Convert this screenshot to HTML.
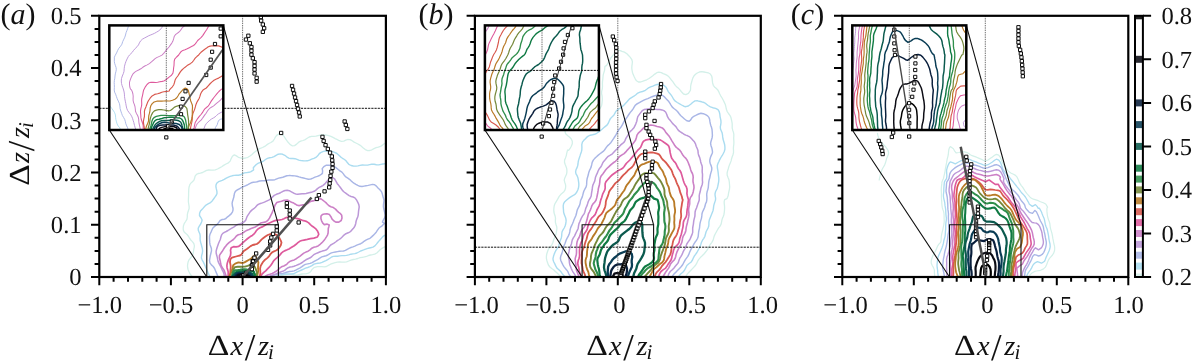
<!DOCTYPE html>
<html lang="en"><head><meta charset="utf-8"><title>Figure</title>
<style>html,body{margin:0;padding:0;background:#fff}svg{display:block}text{font-family:'Liberation Serif',serif;fill:#111;text-rendering:geometricPrecision}.tk{font-size:24.6px}.pl{font-size:30px}.pli{font-size:30px;font-style:italic}.lb{font-size:29px}.lbi{font-size:28.5px;font-style:italic}.sub{font-size:21px;font-style:italic}.sl{font-size:38px}</style></head><body>
<svg width="1193" height="361" viewBox="0 0 1193 361">
<rect width="1193" height="361" fill="#fff"/>
<clipPath id="cp0"><rect x="99.3" y="15.8" width="286.6" height="261.2"/></clipPath>
<clipPath id="ci0"><rect x="109.3" y="25.4" width="114.0" height="104.6"/></clipPath>
<clipPath id="cp1"><rect x="474.9" y="15.8" width="285.9" height="261.2"/></clipPath>
<clipPath id="ci1"><rect x="484.9" y="25.4" width="114.0" height="104.6"/></clipPath>
<clipPath id="cp2"><rect x="842.3" y="15.8" width="286.0" height="261.2"/></clipPath>
<clipPath id="ci2"><rect x="852.3" y="25.4" width="114.0" height="104.6"/></clipPath>
<g clip-path="url(#cp0)" fill="none" stroke-linejoin="round" stroke-linecap="round">
<path d="M194.0 278.0l-1.6-1.3l-2.0-2.2l-1.4-2.7l-.8-1.8l-.5-2.0l-.2-2.1l.3-2.5l.4-1.7l.8-1.9l1.5-1.8l1.6-1.9l1.0-2.3l.4-2.5l.3-2.1l.4-1.5l.2-2.1l-.6-2.1l-1.4-1.9l-1.6-1.6l-1.3-1.8l-.9-1.7l-1.6-2.1l-1.7-1.4l-1.3-1.3l-.7-1.7l-.1-1.8l.2-2.2l.8-2.4l1.4-2.1l1.3-2.2l.4-2.3l.0-2.2l.4-2.0l.7-2.1l.7-2.1l.0-2.2l-.4-2.4l-.3-2.0l.0-2.1l.1-2.3l.1-2.3l-.0-2.2l.1-2.1l.1-2.0l.2-1.7l.8-2.6l1.2-1.7l1.4-1.2l1.4-1.4l.8-2.1l.5-2.1l1.4-1.9l1.8-.8l2.1-.4l2.2-.6l2.1-1.1l1.9-1.0l2.2-.4l2.2 .1l2.1 .1l2.2-.4l2.2-.8l2.1-1.1l2.1-1.2l1.9-1.3l2.4-1.4l2.4-1.2l1.8-1.7l1.0-2.5l1.2-2.4l1.9-1.3l2.1 1.0l2.0 1.4l2.4 .7l2.8 .3l2.0-.3l2.3-.7l2.1-1.3l2.0-1.6l1.5-1.3l1.6-1.4l1.6-1.3l1.7-1.2l1.9-.9l2.3-.8l2.1-1.1l2.0-1.5l2.1-1.4l2.1-1.0l2.1-1.4l1.4-2.1l1.1-2.1l1.2-1.5l2.6-1.8l2.1 .0l1.2 1.1l1.4 1.7l1.3 1.9l1.2 1.8l1.6 2.2l1.9 2.1l2.1 1.4l2.5-.2l2.1-1.5l2.0-1.9l2.0-1.0l2.3-.7l2.3-.9l1.9-1.4l2.0-1.2l2.3-.6l2.3-.1l2.1-.1l2.2-.6l2.1-.5l2.2-.2l2.0 .1l2.1 .2l2.2 .4l2.2 .7l2.1 1.1l2.2 1.2l2.2 1.0l1.9 1.1l2.1 .6l2.4-.2l2.0-.9l1.8-.7l2.4 .1l2.1 1.1l2.0 1.4l1.8 .9l2.0 1.0l1.9 1.1l1.6 1.2l1.9 1.8l2.0 1.5l2.4 1.0l2.1-.1l2.1-.7l2.1-1.2l2.1-.9l2.2-.6l2.3-.7l1.9-1.3l1.8-1.4l2.5-1.0l2.6 .0l1.8 .1" stroke="#d3f0e9" stroke-width="1.30"/>
<path d="M391.3 245.6l-1.8 .1l-2.5 .4l-2.8 1.1l-1.8 .9l-2.0 1.4l-1.8 1.8l-1.8 1.7l-2.1 1.1l-2.2 .5l-2.0 .4l-1.9 .5l-2.0 .8l-2.2 .6l-2.1 .4l-2.2 .4l-2.3 .8l-2.3 .6l-2.3 .4l-2.3 .6l-2.1 .9l-2.2 .9l-2.2 .3l-2.4-.1l-2.3-.1l-2.3 .2l-2.3 .5l-2.3 .6l-2.3 .9l-2.1 1.2l-2.0 1.1l-2.1 .4l-2.5-.2l-2.3-.1l-2.1 .1l-1.9 .4l-1.6 .5l-2.1 2.1l-1.2 2.1l-2.1 1.3l-2.8 .7l-1.8 .1l-1.9 .1l-2.2 .5l-2.5 .6l-2.0 .0l-2.4-.4l-2.4-.3l-2.5-.0l-2.3 .2l-1.9 .2l-2.9 1.3l-2.0 1.6l-1.3 1.0" stroke="#d3f0e9" stroke-width="1.30"/>
<path d="M210.5 277.8l-.8-1.6l-1.2-2.3l-1.0-2.7l-1.1-2.4l-1.0-2.2l-1.0-2.4l-1.0-2.1l-1.2-2.0l-.8-2.0l.2-2.4l.7-2.4l.3-2.5l-.3-2.3l-.5-2.0l-.5-2.0l-.6-2.0l-.5-2.0l-.1-2.1l.1-2.2l-.3-2.1l-.8-1.9l-.8-1.9l-.1-2.0l1.1-2.2l1.4-2.1l1.0-2.3l.4-1.7l-1.1-2.2l-1.5-2.3l.1-2.3l.9-2.2l1.9-1.9l1.0-1.2l1.4-1.6l1.6-1.5l2.1-1.1l2.0-1.1l1.5-1.4l1.6-2.2l1.5-2.1l1.3-1.9l.6-1.6l-.1-2.1l-.6-2.6l-.4-2.0l.1-1.6l.7-1.8l1.8-1.6l1.7-.6l2.0-.7l2.0-1.0l2.1-1.3l2.1-1.0l1.8-.7l1.9-.6l2.0-.4l2.1-.1l2.2 .0l2.1-.5l1.8-.9l2.1-1.0l2.3-.3l2.3-.3l2.0-.7l1.5-.9l1.1-.7l-.3-2.3l1.3-1.5l1.7-1.7l2.1-1.3l2.4-.9l2.5-1.1l2.2-1.7l1.9-1.1l2.3-.6l2.3-.4l2.0-.8l2.1-1.3l2.1-1.1l2.4-.3l2.1 .4l2.1 1.0l1.9 1.5l2.1 1.3l2.0 .4l2.1 .0l2.1 .2l2.0 .7l1.8 .7l2.3 .5l2.2 .2l2.1 .1l1.9-.1l2.3-.7l2.0-.9l2.3-.8l2.0-1.0l1.8-1.6l1.4-1.9l1.5-1.3l2.9-1.2l2.4-.4l1.9-.2l2.3 .2l2.5 .6l2.1 .8l2.2 1.1l2.0 1.7l1.9 1.9l1.7 1.2l2.0 1.2l1.7 1.5l1.3 1.8l1.3 1.5l2.3 1.2l2.2 .5l2.7 .1l1.9-.2l2.1-.5l2.3-.4l2.6 .1l2.8-.0l1.9-.5l2.1-.4l2.4 .1l2.3 .5l2.4 .1l2.1-.5l1.9-.4l1.7-.3l3.2-.7l2.1-.3l1.3-.1" stroke="#aadcf0" stroke-width="1.40"/>
<path d="M391.0 231.4l-1.5 1.2l-2.2 1.5l-3.1 1.5l-1.6 1.3l-1.4 1.7l-1.7 1.8l-1.6 1.8l-1.5 1.9l-1.5 1.8l-2.0 1.2l-2.3 .6l-2.1 .5l-2.1 .7l-2.2 .8l-1.8 .6l-1.8 .7l-1.8 1.0l-1.9 1.0l-2.0 .6l-2.0 .3l-2.0 .3l-2.2 .7l-2.2 .5l-2.2 .2l-2.3 .0l-2.2 .3l-2.2 .3l-2.1 .0l-2.2 .2l-2.0 .8l-1.8 1.3l-1.8 1.2l-1.8 .9l-1.7 .8l-2.2 1.0l-2.1 .7l-2.0 .2l-2.0 .3l-1.9 .6l-2.1 1.4l-2.0 1.1l-2.2 .8l-2.2 .7l-2.0 1.0l-1.9 .8l-2.0 .8l-2.4 1.0l-1.8 1.0l-2.1 1.0l-2.4 .2l-2.4-.1l-2.4 .1l-2.3 .3l-2.2 .3l-2.4 .5l-2.1 1.0l-1.9 1.0l-1.8 .5l-1.3 .2" stroke="#aadcf0" stroke-width="1.40"/>
<path d="M218.1 277.8l-.4-1.8l-1.0-2.4l-1.1-2.6l-1.0-2.5l-1.4-2.0l-1.8-1.6l-1.5-2.0l-.4-2.6l.4-2.2l.4-2.4l.6-2.4l.6-2.5l-.1-2.3l-.7-2.1l-.7-2.0l-.3-2.0l-.1-2.0l-.1-1.9l.0-2.1l.5-2.2l1.0-2.1l.9-2.1l1.0-2.0l1.6-1.6l2.0-1.5l1.6-1.6l1.2-1.7l1.0-1.3l1.9-.8l1.8-.1l1.9-.9l1.4-1.4l1.9-1.5l2.0-1.7l1.3-2.1l.5-1.7l.0-1.9l-.6-2.2l-.3-2.5l.3-1.8l.6-2.0l.7-2.1l.4-2.1l.3-2.0l1.0-2.1l1.7-1.4l2.2-1.2l2.5-1.4l1.6-.8l1.9-.8l2.0-.8l1.9-1.2l2.0-1.0l2.2-.5l2.1-.2l1.7-.4l2.4-.7l2.4-.3l2.3-.0l2.2-.2l2.2-.5l1.9-.1l2.2 .1l2.1-.3l1.9-.8l1.9-.8l1.9-.4l2.2-.5l2.0-.7l2.0-.7l2.0-.2l1.8 .0l2.0 .1l2.2 .2l2.1 .3l2.2 .7l2.1 .6l2.3 .5l2.3 .6l2.5 .6l2.5-.2l2.1-.9l2.1-1.0l2.4-.7l2.1-.9l1.7-1.1l1.2-1.0l.2-2.5l-.4-2.3l1.6-1.9l2.6-1.5l2.7 .0l2.1 .4l1.8 .5l2.6 1.3l1.2 .9l1.4 1.2l1.8 1.3l1.9 1.3l1.5 1.8l1.3 1.9l1.5 1.4l1.6 1.0l2.0 1.4l1.5 1.5l1.5 1.2l1.5 1.0l1.6 1.0l1.9 1.1l2.0 .9l2.2 .2l2.1-.4l1.9-.4l2.2-.3l2.2-.5l2.1-.5l2.1 .3l1.8 1.4l1.6 1.9l1.9 1.7l1.5 1.9l.9 2.2l.5 2.3l.7 2.1l.5 2.0l-.2 2.1l-.3 2.1l-.1 2.3l.3 1.8l.5 2.2l.6 2.4l.5 2.2l-.6 2.4l-1.4 2.4l-.8 2.0l1.9 1.3l-.8 .9l-1.2 1.3l-1.8 1.2l-1.8 1.5l-1.3 1.9l-1.3 2.0l-1.4 1.6l-1.6 1.6l-1.6 1.5l-1.6 1.4l-2.1 .9l-2.0 .9l-1.9 1.2l-1.5 1.3l-1.8 1.1l-1.9 .7l-2.0 .8l-2.0 .9l-1.9 .8l-2.0 .6l-1.9 .8l-1.8 1.0l-1.8 1.1l-1.9 .6l-2.0 .1l-2.1 .1l-2.0 .4l-1.9 .4l-2.1 .4l-2.0 .5l-1.9 1.0l-1.7 1.1l-1.8 .7l-1.8 .5l-2.4 .7l-2.0 1.2l-1.8 1.3l-1.9 1.0l-1.9 1.0l-2.1 1.2l-2.0 .8l-2.3 .5l-2.5 .5l-1.7 .9l-1.7 1.3l-1.8 1.2l-2.0 1.0l-1.9 1.1l-2.1 1.0l-2.2 .4l-2.3 .2l-2.3 .5l-2.2 .8l-2.2 .6l-2.4 .2l-2.1 .3l-2.2 .6l-2.3 .5l-2.2 .6l-1.9 .9l-1.4 1.1l-1.1 .7" stroke="#a9b6e6" stroke-width="1.45"/>
<path d="M224.3 278.0l-.1-1.5l-.1-2.3l-.8-2.2l-1.0-1.9l-1.0-2.2l-1.0-2.0l-1.2-2.2l-.9-1.9l-.5-2.1l-.4-2.3l-.6-2.2l-.5-1.9l-.1-2.0l.5-2.1l.6-2.0l.7-2.0l.7-2.0l.9-2.0l.9-2.0l.5-2.2l.7-2.1l1.2-1.5l1.6-1.0l1.8-.9l1.8-1.0l1.8-1.2l2.0-1.1l1.9-1.1l2.0-1.4l2.2-1.3l2.5-.8l2.3-.8l1.7-1.2l1.3-1.3l1.2-3.4l.9-1.5l1.2-1.8l1.3-2.0l1.8-1.7l1.7-1.2l1.6-1.5l1.3-1.5l1.6-1.3l2.1-.9l2.0-.6l2.0-.8l2.1-1.0l2.2-1.0l2.0-1.2l1.7-1.8l1.8-1.7l2.2-1.1l2.3-.8l1.8-.8l2.5-1.4l2.1-.8l2.1-.2l2.1 .4l2.1 1.1l2.4 1.4l1.8 .7l2.1 .3l2.2-.2l2.2-.2l1.9-.1l2.1-.1l1.9-.5l2.1-.6l2.3-.6l1.8-.6l1.7-1.2l1.6-1.5l1.7-1.2l1.9-.9l1.7-.9l2.0-1.7l1.6-1.9l1.4-1.6l1.3-1.3l3.4-1.6l2.1 1.4l1.3 2.2l1.4 2.6l1.2 1.4l1.3 1.6l1.3 1.8l1.3 1.9l1.7 1.6l1.6 1.1l1.7 1.3l1.7 1.2l2.0 .9l2.0 .5l1.8 .9l1.7 2.1l1.2 2.3l1.0 2.3l.4 2.3l-.3 1.9l-.3 2.0l-.2 2.1l-.2 2.2l-.5 1.9l-.9 2.1l-.7 2.1l-.3 2.0l-.5 1.9l-.9 1.9l-1.2 1.6l-1.8 2.0l-1.3 1.2l-1.9 1.0l-2.3 .9l-1.9 1.4l-1.6 1.7l-1.6 1.5l-1.7 1.2l-1.8 1.2l-1.7 1.3l-1.6 1.1l-1.7 1.0l-1.6 .9l-1.6 1.7l-1.2 1.7l-1.4 1.3l-2.1 .9l-2.1 .5l-2.1 .7l-2.2 .9l-2.2 .9l-2.0 1.1l-1.8 1.6l-1.8 1.5l-2.1 1.0l-2.2 1.0l-1.9 1.3l-1.8 1.4l-1.8 1.1l-2.0 .9l-2.1 .9l-2.3 .9l-1.9 .4l-2.0 .3l-1.9 .7l-1.8 1.2l-1.8 1.4l-1.9 1.0l-2.1 .7l-2.0 .8l-2.2 1.0l-2.3 .8l-2.3 .8l-2.1 1.1l-1.9 .9l-1.8 .4l-1.4 .1" stroke="#bc98d8" stroke-width="1.50"/>
<path d="M226.4 277.8l-.2-1.4l-.6-2.0l-.8-2.2l-.8-2.1l-1.3-1.9l-1.3-2.0l-.7-2.1l-.3-2.2l-.5-2.1l-.5-2.1l.1-2.3l1.2-2.0l1.4-1.8l1.2-2.0l1.3-2.1l1.7-2.1l1.4-1.6l1.6-1.5l2.1-1.4l2.0-1.4l1.6-1.8l1.4-1.7l1.9-1.2l2.0-.6l1.8-.8l1.6-1.1l1.7-1.2l1.8-.9l1.9-.7l2.0-.9l2.1-.8l2.0-.8l1.9-1.1l1.7-1.5l1.8-1.3l2.3-.6l2.2-.4l1.7-.9l1.3-1.1l1.5-2.2l1.2-2.5l.9-1.7l.9-2.2l1.0-2.3l.8-2.3l.7-2.0l1.7-2.3l2.5-.9l2.2-.4l2.7-1.1l3.0-.1l2.2 1.0l2.1 1.2l2.2 .8l1.8 1.1l1.7 1.1l1.9 .3l1.7-.3l2.2-.4l2.7-.4l1.9-.9l1.9-1.5l2.3-1.0l2.4-.5l1.8-.5l2.7-1.2l2.0-.2l1.7 1.1l2.1 1.7l1.4 1.1l1.5 1.6l1.6 1.6l1.9 1.0l2.5 .8l2.1 1.5l1.6 1.8l1.6 1.5l1.8 1.3l1.2 1.6l.3 2.7l-.8 2.5l-2.4 1.6l-3.0-.0l-1.8-1.1l-1.9-1.8l-1.2-2.5l-1.4-2.1l-2.6-.9l-2.6 .3l-1.9 .5l-1.4 1.6l-.1 2.5l.7 2.2l1.2 2.4l1.5 1.4l2.6-.5l2.4 .8l-.4 1.5l-.6 2.0l-.1 2.3l-.1 2.4l-.6 2.0l-1.1 1.8l-1.1 1.7l-1.2 1.7l-1.5 1.7l-1.4 1.3l-1.4 1.4l-1.7 1.2l-2.1 .8l-2.2 .5l-2.0 1.0l-1.8 1.6l-1.9 1.4l-2.2 .9l-2.1 1.0l-1.9 1.5l-1.8 1.5l-1.9 1.3l-1.9 1.3l-2.1 1.2l-1.9 .6l-2.0 .7l-1.7 1.1l-1.4 1.5l-1.6 1.3l-1.8 .8l-2.3 .9l-1.8 1.4l-1.7 1.6l-1.9 1.5l-2.0 1.2l-1.9 1.0l-2.2 .8l-2.4 .7l-2.0 1.0l-1.5 1.2l-1.1 .7" stroke="#cc80c6" stroke-width="1.60"/>
<path d="M228.1 278.0l.1-2.6l-.0-3.5l-.5-1.9l-.6-2.1l-.2-2.2l.3-2.1l.6-2.0l.8-2.2l1.0-2.1l.9-2.0l.3-2.6l-.3-2.5l.7-2.4l2.3-1.1l2.6 .1l2.7-.5l1.7-1.3l1.6-1.6l1.7-1.6l1.7-1.4l1.6-1.4l1.6-1.2l1.6-1.2l2.0-1.2l1.5-1.3l1.4-1.6l1.2-1.9l1.6-1.6l2.0-1.2l2.2-.9l2.0-1.1l2.0-1.3l2.2-1.1l2.2-1.0l2.1-.9l2.2-.9l2.4-.5l2.5-.2l2.2-.4l1.9-.8l2.3-1.1l2.1-.5l2.0 .2l2.0 .3l2.0 .4l2.0 .3l2.1 .5l2.1 .8l1.9 .7l2.2 .5l2.2 .8l1.9 1.3l1.7 1.7l1.5 1.4l2.0 1.3l2.0 1.6l1.4 1.8l.9 1.9l.5 1.7l-1.3 2.7l-3.5 1.1l-1.6 .2l-1.9 .3l-2.1 .5l-2.2 .6l-2.1 .4l-2.2 .4l-2.1 .8l-1.8 1.4l-1.8 1.6l-1.9 1.4l-1.7 1.0l-1.7 1.1l-1.8 1.1l-1.9 .9l-1.9 .8l-1.7 .8l-1.9 1.5l-1.4 1.7l-1.4 1.6l-1.7 1.5l-1.5 1.2l-1.5 1.4l-1.2 1.7l-1.0 1.8l-1.2 1.7l-1.7 1.9l-1.7 1.8l-1.6 1.7l-1.6 1.3l-2.0 1.8l-1.2 2.1l-.5 1.5" stroke="#de5a9c" stroke-width="1.70"/>
<path d="M229.3 277.8l.3-1.4l.5-2.0l.2-2.4l.2-2.4l.2-2.3l-.1-2.0l-.6-3.2l.3-2.6l1.6-1.8l1.8-.6l2.3-.6l2.3-.6l1.7-.4l1.5-1.1l1.0-1.7l1.2-1.6l1.7-1.2l1.8-1.1l1.8-1.4l1.6-1.3l2.1-1.1l2.3-.5l2.2-.7l1.7-1.3l1.4-1.6l1.4-1.5l1.7-1.4l2.0-1.5l2.3-1.5l2.5-.8l2.0-.2l2.3 .2l2.5 .9l1.8 1.7l1.1 2.1l1.0 2.0l.6 1.7l-.7 2.7l-1.7 2.6l-1.4 1.5l-1.7 1.1l-1.9 .8l-2.0 1.1l-1.7 1.8l-1.4 2.1l-1.8 1.8l-2.1 1.6l-1.8 1.9l-1.4 2.1l-1.2 2.2l-.6 2.6l.2 2.5l-.0 2.7l-.6 2.4l-.4 1.7" stroke="#d8584e" stroke-width="1.80"/>
<path d="M229.5 277.4l.0-1.8l1.7-3.3l1.2-3.6l.8-3.5l2.0-1.6l3.2-1.2l4.0 .6l2.1-.6l1.7-1.0l2.4-1.4l2.2-1.1l1.4-1.4l1.0-1.0l1.2-.3l1.0 .5l.7 .7l.7 1.8l1.6 3.0l-.3 3.8l-.1 2.0l.3 2.1l-.5 3.3l-.6 2.5l-.1 1.7" stroke="#b97a26" stroke-width="1.85"/>
<path d="M231.2 277.6l.7-1.5l.9-3.1l.4-3.5l1.7-2.4l2.9-.4l3.3 .1l3.9-.2l2.6-.8l2.7-.9l2.6 .4l1.7 1.4l1.2 2.5l1.3 3.6l-.5 3.1l-.5 1.6" stroke="#75883a" stroke-width="1.90"/>
<path d="M232.1 277.6l.1-1.7l.7-3.5l1.9-2.2l3.0-.2l2.2-.2l2.4-.4l2.3-.1l2.3 .3l3.9 .2l2.2 1.4l1.4 2.3l1.0 2.3l.3 1.7" stroke="#2f8f4c" stroke-width="2.10"/>
<path d="M232.7 277.5l.7-1.6l1.2-2.5l1.9-1.5l3.3-.5l3.9-.3l4.0 .1l3.4-.8l2.6 1.2l.8 2.6l-.1 1.6l-.1 1.7" stroke="#0f7a43" stroke-width="2.20"/>
<path d="M232.8 277.3l.5-1.9l2.3-1.8l2.9-.8l3.9-.4l4.0 .1l3.9 .1l1.9 1.3l.7 2.1l.1 1.6" stroke="#0b5a4e" stroke-width="2.30"/>
<path d="M235.0 277.5l.1-1.9l1.6-2.1l2.9-.5l3.5 .6l3.9-.3l3.3 .8l1.3 2.0l.3 1.6" stroke="#0a3d55" stroke-width="2.30"/>
<path d="M235.9 277.4l.5-2.0l2.4-1.4l2.1 .1l2.2 .3l3.9 .5l2.4 1.1l.5 .4l.9 1.3" stroke="#0a1f3c" stroke-width="2.30"/>
<path d="M237.1 277.3l.9-2.0l2.9-.8l2.8 .5l3.3 .6l1.9 .5l.9 1.5" stroke="#0c0c14" stroke-width="2.30"/>
<path d="M240.4 277.9l.8-.8l2.5-.5l2.7-.2l1.7 .6" stroke="#000000" stroke-width="2.30"/>
</g>
<path d="M242.6 15.8V277.0" stroke="#333" stroke-width="0.7" stroke-dasharray="1.4 0.9" fill="none"/>
<path d="M99.3 108.3H385.9" stroke="#111" stroke-width="1" stroke-dasharray="2.2 1" fill="none"/>
<path d="M206.8 277.0V224.8H278.4V277.0" stroke="#111" stroke-width="1.1" fill="none"/>
<path d="M109.3 130.0L206.8 277.0M223.3 25.4L278.4 224.8" stroke="#111" stroke-width="1.1" fill="none"/>
<g clip-path="url(#cp0)"><path d="M259.2 15.5h3.3v3.3h-3.3zM259.5 19.0h3.3v3.3h-3.3zM261.2 22.8h3.3v3.3h-3.3zM262.5 26.6h3.3v3.3h-3.3zM261.2 30.2h3.3v3.3h-3.3zM246.7 34.1h3.3v3.3h-3.3zM244.3 37.9h3.3v3.3h-3.3zM248.2 41.6h3.3v3.3h-3.3zM249.8 45.4h3.3v3.3h-3.3zM249.8 49.1h3.3v3.3h-3.3zM249.8 53.0h3.3v3.3h-3.3zM251.2 56.6h3.3v3.3h-3.3zM252.9 60.5h3.3v3.3h-3.3zM252.9 64.2h3.3v3.3h-3.3zM252.9 67.9h3.3v3.3h-3.3zM252.9 71.8h3.3v3.3h-3.3zM255.0 76.2h3.3v3.3h-3.3zM255.0 80.0h3.3v3.3h-3.3zM290.4 84.3h3.3v3.3h-3.3zM291.4 88.1h3.3v3.3h-3.3zM292.4 91.9h3.3v3.3h-3.3zM293.4 95.8h3.3v3.3h-3.3zM294.4 99.5h3.3v3.3h-3.3zM295.4 103.3h3.3v3.3h-3.3zM296.4 107.1h3.3v3.3h-3.3zM297.4 110.9h3.3v3.3h-3.3zM298.1 114.8h3.3v3.3h-3.3zM279.5 131.3h3.3v3.3h-3.3zM343.0 119.8h3.3v3.3h-3.3zM344.2 123.3h3.3v3.3h-3.3zM345.7 127.3h3.3v3.3h-3.3zM320.8 135.2h3.3v3.3h-3.3zM322.0 139.3h3.3v3.3h-3.3zM323.9 143.5h3.3v3.3h-3.3zM326.2 147.3h3.3v3.3h-3.3zM328.4 151.0h3.3v3.3h-3.3zM330.2 154.8h3.3v3.3h-3.3zM330.6 158.7h3.3v3.3h-3.3zM330.9 162.4h3.3v3.3h-3.3zM330.9 166.2h3.3v3.3h-3.3zM329.7 170.0h3.3v3.3h-3.3zM328.9 174.2h3.3v3.3h-3.3zM328.6 178.2h3.3v3.3h-3.3zM328.0 181.8h3.3v3.3h-3.3zM327.5 185.7h3.3v3.3h-3.3zM322.9 189.7h3.3v3.3h-3.3zM317.2 193.5h3.3v3.3h-3.3zM315.2 197.3h3.3v3.3h-3.3zM285.2 201.5h3.3v3.3h-3.3zM285.2 205.2h3.3v3.3h-3.3zM288.1 208.9h3.3v3.3h-3.3zM288.1 212.8h3.3v3.3h-3.3zM288.1 216.9h3.3v3.3h-3.3zM297.0 220.8h3.3v3.3h-3.3zM275.1 225.0h3.3v3.3h-3.3zM275.1 228.8h3.3v3.3h-3.3zM271.4 232.2h3.3v3.3h-3.3zM269.7 235.9h3.3v3.3h-3.3zM268.5 239.8h3.3v3.3h-3.3zM268.5 243.8h3.3v3.3h-3.3zM266.4 248.2h3.3v3.3h-3.3zM254.5 251.8h3.3v3.3h-3.3zM252.8 256.1h3.3v3.3h-3.3zM251.2 259.4h3.3v3.3h-3.3zM250.8 263.4h3.3v3.3h-3.3zM251.2 259.8h3.3v3.3h-3.3zM250.2 263.7h3.3v3.3h-3.3zM250.2 267.5h3.3v3.3h-3.3zM244.4 271.2h3.3v3.3h-3.3zM242.0 273.5h3.3v3.3h-3.3z" fill="#fff" stroke="#000" stroke-width="0.95"/></g>
<g clip-path="url(#cp0)"><path d="M242.5 277.0L311.5 197.5" stroke="#505050" stroke-width="2.6" fill="none"/></g>
<rect x="109.3" y="25.4" width="114.0" height="104.6" fill="#fff"/>
<g clip-path="url(#ci0)" fill="none" stroke-linejoin="round" stroke-linecap="round">
<path d="M109.0 104.8l1.5 2.0l1.4 1.8l1.7 2.4l1.1 1.8l.7 2.2l.2 2.3l.3 2.3l.6 2.3l.6 2.0l1.1 2.2l1.5 1.6l1.4 3.2" stroke="#aadcf0" stroke-width="0.90"/>
<path d="M129.1 24.9l-.7 1.4l-.7 2.1l-.8 2.2l-.8 2.0l-.6 2.4l-.7 2.2l-.9 1.9l-1.2 2.5l-.8 2.6l-1.3 2.0l-1.7 2.0l-1.3 2.3l-1.0 2.4l-1.3 2.3l-.9 2.0l-.1 4.1l.3 1.9l.7 2.1l.8 2.3l.2 2.0l-.4 2.1l-.6 2.2l-.3 2.1l-.2 2.2l-.4 2.2l-.2 2.1l.1 2.0l.1 2.9l-.2 2.6l.4 2.1l1.0 2.1l.8 2.2l.8 2.3l1.1 2.4l1.1 2.4l.5 2.5l.2 2.6l.7 2.4l.8 2.3l.8 2.2l1.2 2.0l1.1 2.0l.7 2.2l.4 2.0l.9 2.2l.9 1.8l.9 3.4" stroke="#a9b6e6" stroke-width="0.93"/>
<path d="M162.7 25.4l-.9 2.3l-2.0 2.4l-1.6 1.1l-1.7 1.0l-2.0 1.1l-1.7 .8l-2.0 .8l-2.0 .8l-1.8 1.0l-2.3 1.2l-2.3 1.3l-1.8 1.7l-1.2 2.0l-.9 2.0l-1.4 1.8l-1.9 1.8l-1.8 2.1l-1.2 1.8l-2.6 2.5l-1.3 1.7l-1.2 2.3l-1.1 2.4l-.8 2.4l-.7 2.5l-.3 2.5l-.2 2.6l-.7 2.4l-1.0 2.3l-.8 2.5l-.2 2.5l.2 2.4l.6 2.3l.8 2.1l.7 2.2l.5 2.0l.3 2.1l.1 2.2l.3 2.4l.5 2.5l.5 2.4l.4 2.3l.5 2.3l.8 2.1l1.4 2.0l1.5 1.9l1.2 2.0l.9 2.1l.7 2.2l.6 2.0l.7 2.9l.7 2.4l1.3 3.2" stroke="#bc98d8" stroke-width="0.96"/>
<path d="M185.2 25.3l-1.5 1.1l-1.8 1.8l-1.3 2.1l-1.6 1.7l-1.8 1.3l-1.8 1.4l-1.2 1.9l-.6 2.3l-.8 2.4l-1.0 1.8l-1.3 1.8l-1.3 1.8l-1.3 1.6l-1.6 1.9l-1.5 1.8l-1.1 1.4l-1.8 1.7l-2.4 1.3l-2.9 1.2l-1.8 1.2l-1.6 1.5l-1.5 1.4l-2.3 1.9l-2.7 1.5l-1.9 .9l-2.0 1.3l-2.0 1.5l-2.2 1.2l-2.3 1.1l-1.8 1.3l-1.7 1.8l-1.1 2.0l-.8 1.9l-.8 2.1l-.6 2.2l-.0 2.3l.3 2.3l.6 1.9l1.2 1.2l.7 1.6l.6 2.3l.3 2.3l-.1 2.1l.0 2.1l.5 2.1l.8 2.0l.6 2.1l.3 2.3l.2 2.3l.9 2.1l1.1 1.9l.8 2.0l.4 2.1l.1 2.1l.3 2.2l.5 2.1l.4 1.8l.5 3.4" stroke="#cc80c6" stroke-width="1.02"/>
<path d="M209.4 25.0l-1.1 1.7l-1.4 2.6l-1.7 2.5l-1.2 1.8l-1.3 2.0l-1.5 1.8l-1.6 1.4l-1.9 1.7l-1.2 1.7l-1.2 1.7l-1.7 1.6l-2.1 1.1l-2.2 1.1l-2.1 1.1l-2.2 .9l-2.2 .7l-1.8 1.3l-1.2 1.6l-1.1 1.7l-2.1 2.0l-1.9 2.1l-.5 2.0l-.1 2.2l-.1 2.2l-.4 2.5l-.2 2.6l-.5 2.5l-1.4 2.2l-2.1 1.6l-1.7 1.3l-1.7 1.6l-2.2 1.2l-1.7 .4l-2.3 .4l-2.2 .4l-2.0 .3l-2.4-.1l-2.2-.1l-1.9 .4l-2.1 1.8l-1.5 2.1l-1.8 3.3l-.5 1.9l-.4 2.3l-.5 2.2l-.5 2.1l-.2 2.1l.1 2.2l.0 2.1l-.4 2.1l-.5 2.0l-.3 2.2l.1 2.1l.2 2.1l.1 2.1l.4 2.1l.7 2.0l.7 2.1l.5 2.1l.0 1.9l.1 3.4" stroke="#de5a9c" stroke-width="1.09"/>
<path d="M224.4 48.5l-1.5-.8l-2.2-1.1l-2.1-.7l-2.3-.1l-1.8-.0l-2.0 .0l-2.4 .3l-1.8 .7l-1.7 1.2l-1.8 1.2l-1.9 1.5l-1.9 1.6l-1.3 1.4l-1.0 1.3l-1.6 1.3l-1.9 1.9l-1.6 2.3l-1.3 1.6l-1.6 1.3l-1.8 1.0l-1.8 1.2l-1.7 1.4l-1.8 1.4l-1.7 1.6l-1.4 1.6l-1.4 2.3l-1.3 2.1l-1.6 2.0l-1.1 2.1l-.6 2.4l-.7 2.2l-1.4 2.1l-1.8 1.8l-1.1 1.2l-.2 1.2l-2.4 .4l-3.1 .3l-2.0 .6l-2.1 .8l-2.1 .6l-3.0 .7l-2.5 1.5l-2.0 2.3l-1.7 2.5l-.9 1.9l-.8 2.2l-.8 2.1l-1.0 2.3l-.5 2.5l.1 2.5l-.1 2.5l-.6 2.5l-.4 2.4l.2 2.2l.4 2.1l.3 1.8l.9 3.3" stroke="#d8584e" stroke-width="1.15"/>
<path d="M224.2 74.7l-1.4 .8l-2.0 1.3l-2.2 1.3l-2.2 .9l-2.4 1.3l-2.0 1.6l-1.7 1.6l-2.1 2.4l-1.9 2.1l-3.3 2.1l-1.3 1.7l-1.1 2.2l-.7 2.4l-.8 2.1l-1.1 1.9l-1.1 1.9l-.9 2.1l-.6 2.3l-.7 2.4l-.9 2.3l-1.0 2.5l-.4 2.4l-.1 2.3l-.2 2.1l-.4 2.0l-.6 2.6l-.5 2.4l-.6 3.3" stroke="#d8584e" stroke-width="1.15"/>
<path d="M224.5 87.8l-1.7 .6l-2.2 1.5l-1.7 1.6l-1.9 2.1l-1.9 2.4l-1.2 1.5l-1.2 1.6l-1.3 1.8l-1.1 1.8l-1.0 1.8l-1.2 1.6l-1.6 1.4l-1.7 1.4l-1.3 1.8l-1.1 2.0l-1.4 1.8l-1.5 1.6l-1.7 2.2l-1.4 2.2l-1.2 2.0l-.7 3.0l-.4 2.4l-1.6 3.2" stroke="#de5a9c" stroke-width="1.09"/>
<path d="M224.5 95.9l-1.1 1.0l-1.4 1.5l-1.6 1.8l-1.7 1.5l-1.6 1.2l-1.5 1.3l-1.6 1.4l-1.8 1.2l-1.9 1.1l-1.7 1.6l-1.3 1.8l-1.2 1.9l-1.3 1.7l-1.2 1.7l-1.1 1.7l-1.2 1.6l-2.0 1.8l-1.9 1.8l-1.2 2.1l-1.2 3.1l-.8 2.2" stroke="#cc80c6" stroke-width="1.02"/>
<path d="M224.5 110.1l-1.4 1.1l-2.1 1.3l-2.5 1.3l-1.9 1.6l-1.5 1.5l-1.8 1.1l-1.8 1.0l-1.6 1.2l-1.9 1.7l-1.8 1.8l-1.2 2.1l-.8 2.3l-1.1 1.9l-1.0 1.2" stroke="#bc98d8" stroke-width="0.96"/>
<path d="M224.4 118.2l-1.7 .5l-2.3 .6l-1.8 1.2l-.8 2.1l-.6 2.2l-1.8 2.8l-.6 3.6" stroke="#a9b6e6" stroke-width="0.93"/>
<path d="M145.6 131.0l.4-3.4l.7-2.1l1.2-2.4l.7-2.5l-.0-2.5l.2-2.5l.7-2.4l.5-2.6l.2-2.6l.6-2.2l1.4-2.2l1.9-1.6l2.7-.8l2.9 .0l2.0-.0l2.2-.2l2.1-.1l2.2 .1l2.3-.2l2.0-.5l2.4-1.1l1.9-1.5l1.3-2.0l1.1-1.9l2.4-2.7l1.8-1.9l1.8-1.1l1.8 .8l1.3 1.5l.9 3.8l.5 1.9l.4 2.3l.5 2.3l.9 2.2l.9 2.4l.1 2.6l-.2 2.1l.0 2.2l.0 2.2l-.2 2.0l-.4 2.3l-.5 2.1l-.7 1.9l-1.3 2.5l-.7 2.4l.2 3.4" stroke="#b97a26" stroke-width="1.18"/>
<path d="M147.8 131.1l.5-3.4l.5-1.8l.6-2.1l.4-2.2l.3-2.3l.6-2.2l.7-2.0l1.3-2.5l1.7-1.7l2.0-.8l2.3-.4l2.5 .0l2.7 .3l2.1 .4l2.3 .4l2.1-.3l2.0-1.5l1.8-1.6l2.1-1.1l2.3-.6l2.2-.2l2.1 .1l2.2 .8l1.7 1.9l.5 2.8l.3 3.2l.4 2.3l.4 2.6l.2 2.4l-.0 2.2l-.2 2.1l-.2 1.8l-.1 3.3" stroke="#75883a" stroke-width="1.22"/>
<path d="M149.3 131.0l.9-3.3l.7-1.8l.5-2.2l.4-2.1l1.0-2.6l1.6-1.7l1.9-.9l2.4-.6l2.2-.4l2.6-.1l2.5 .1l2.5 .2l2.5 .0l2.4 .0l2.3-.1l2.1-.2l1.8-.3l2.6 .4l2.2 1.6l1.1 2.7l.5 2.9l.5 2.7l.3 2.4l.0 3.3" stroke="#2f8f4c" stroke-width="1.34"/>
<path d="M151.0 131.1l.4-3.4l1.0-2.5l1.2-2.5l1.2-1.9l1.8-1.2l2.5-.4l2.8-.7l1.9-.7l2.2-.2l2.1-.2l2.1-.2l2.2-.1l2.0 .3l2.9 .5l2.4 .1l1.8 1.0l1.2 1.6l.9 2.1l.7 2.1l.3 2.9l.2 3.4" stroke="#0f7a43" stroke-width="1.41"/>
<path d="M152.1 131.0l1.3-3.2l1.0-1.9l1.4-1.9l1.8-1.4l2.1-1.2l1.9-.7l2.2-.3l2.2 .1l2.1-.0l2.1-.4l2.2-.2l2.2 .1l2.2 .3l2.0 .5l1.8 1.2l1.0 1.8l.5 2.1l.6 1.9l1.1 3.2" stroke="#0b5a4e" stroke-width="1.47"/>
<path d="M154.2 131.0l.6-3.5l2.9-2.7l1.8-1.1l2.2-.9l2.6-.5l2.8 .3l2.0 .4l2.2 .3l2.0 .0l2.9 .2l2.5 .7l1.8 1.4l1.3 1.9l.6 3.5" stroke="#0a3d55" stroke-width="1.47"/>
<path d="M156.1 131.1l.4-3.7l1.8-1.5l2.4-.6l2.0-.2l2.2-.2l2.2-.1l2.1 .1l2.2 .1l2.0 .0l2.4 .6l1.7 .9l1.3 1.4l1.6 3.1" stroke="#0a1f3c" stroke-width="1.47"/>
<path d="M157.6 130.7l2.1-2.6l2.0-.7l2.3-.5l2.0-.4l2.1-.1l2.7 .0l2.6 .1l3.2 1.3l1.5 3.3" stroke="#0c0c14" stroke-width="1.47"/>
<path d="M162.4 131.0l1.5-2.1l2.0-.3l2.2-.1l2.3-.1l2.1 .2l2.2 2.1" stroke="#000000" stroke-width="1.47"/>
</g>
<path d="M166.3 25.4V130.0" stroke="#333" stroke-width="0.7" stroke-dasharray="1.4 0.9" fill="none"/>
<path d="M219.1 27.0h3.2v3.2h-3.2zM219.1 34.7h3.2v3.2h-3.2zM213.4 42.4h3.2v3.2h-3.2zM210.5 50.2h3.2v3.2h-3.2zM209.1 58.1h3.2v3.2h-3.2zM209.1 66.0h3.2v3.2h-3.2zM204.6 73.4h3.2v3.2h-3.2zM187.0 81.3h3.2v3.2h-3.2zM183.9 89.7h3.2v3.2h-3.2zM181.0 97.3h3.2v3.2h-3.2zM179.4 105.0h3.2v3.2h-3.2zM179.4 112.6h3.2v3.2h-3.2zM170.2 120.0h3.2v3.2h-3.2zM166.5 124.7h3.2v3.2h-3.2zM164.7 135.8h3.2v3.2h-3.2z" fill="#fff" stroke="#000" stroke-width="0.95"/>
<g clip-path="url(#ci0)"><path d="M166.5 130.0L223.8 48.0" stroke="#555" stroke-width="1.7" fill="none"/></g>
<rect x="109.3" y="25.4" width="114.0" height="104.6" fill="none" stroke="#000" stroke-width="2.5"/>
<rect x="99.3" y="15.8" width="286.6" height="261.2" fill="none" stroke="#000" stroke-width="2.2"/>
<path d="M91.0 277.0H99.3M94.6 263.9H99.3M94.6 250.9H99.3M94.6 237.8H99.3M91.0 224.8H99.3M94.6 211.7H99.3M94.6 198.6H99.3M94.6 185.6H99.3M91.0 172.5H99.3M94.6 159.5H99.3M94.6 146.4H99.3M94.6 133.3H99.3M91.0 120.3H99.3M94.6 107.2H99.3M94.6 94.2H99.3M94.6 81.1H99.3M91.0 68.0H99.3M94.6 55.0H99.3M94.6 41.9H99.3M94.6 28.9H99.3M91.0 15.8H99.3M99.3 277.0V285.3M113.6 277.0V281.7M128.0 277.0V281.7M142.3 277.0V281.7M156.6 277.0V281.7M170.9 277.0V285.3M185.3 277.0V281.7M199.6 277.0V281.7M213.9 277.0V281.7M228.3 277.0V281.7M242.6 277.0V285.3M256.9 277.0V281.7M271.3 277.0V281.7M285.6 277.0V281.7M299.9 277.0V281.7M314.2 277.0V285.3M328.6 277.0V281.7M342.9 277.0V281.7M357.2 277.0V281.7M371.6 277.0V281.7M385.9 277.0V285.3" stroke="#000" stroke-width="2" fill="none"/>
<text x="99.7" y="312.6" text-anchor="middle" class="tk">−1.0</text>
<text x="171.0" y="312.6" text-anchor="middle" class="tk">−0.5</text>
<text x="242.6" y="312.6" text-anchor="middle" class="tk">0</text>
<text x="314.2" y="312.6" text-anchor="middle" class="tk">0.5</text>
<text x="385.9" y="312.6" text-anchor="middle" class="tk">1.0</text>
<g transform="translate(207.9,355)"><text x="-0.1" y="0" class="lb" textLength="21.6" lengthAdjust="spacingAndGlyphs">Δ</text><text x="22.7" y="0" class="lbi">x</text><text x="36.9" y="5" class="sl">/</text><text x="50.0" y="0" class="lbi">z</text><text x="60.2" y="3.7" class="sub">i</text></g>
<g clip-path="url(#cp1)" fill="none" stroke-linejoin="round" stroke-linecap="round">
<path d="M561.5 277.7l-1.0-1.3l-1.6-1.7l-1.8-1.7l-1.7-1.5l-1.8-1.7l-1.9-1.3l-1.8-1.5l-1.5-2.0l-.9-2.4l-.7-2.4l-.4-1.8l-.0-2.0l.3-2.1l.6-2.1l.7-2.0l1.0-2.0l1.6-1.7l1.4-1.9l.9-2.1l.6-2.2l.8-2.1l.9-1.9l.8-2.0l.4-2.1l.3-2.0l.2-2.0l-.3-2.0l-.7-2.0l-.5-1.9l.0-2.1l.1-2.1l-.4-2.1l-.7-2.0l-.5-2.0l-.1-1.9l.1-2.0l.3-2.1l.6-2.0l1.1-1.9l1.2-1.9l1.0-1.8l1.1-2.0l1.5-1.8l1.7-1.5l1.5-1.4l1.0-1.5l.6-2.0l.2-2.0l-.3-2.1l-.7-1.9l-.5-2.0l.5-2.0l.9-1.9l.9-2.0l.4-2.1l-.0-2.1l-.3-2.0l-.7-1.9l-.8-2.0l-.6-2.0l.1-2.2l.9-2.1l.8-2.3l.4-2.3l.5-2.0l.5-1.3l.9 .4l1.3-1.7l1.4-2.5l1.0-2.5l.0-2.5l-1.0-2.2l-1.6-1.8l-1.9-1.5l-2.1-1.9l-.7-1.9l.8-1.4l1.4-1.3l1.9-1.2l2.2-1.4l2.2-1.5l1.6-.8l2.1-.4l2.1-.5l2.0-.9l1.9-1.3l1.9-1.2l1.8-.9l1.5-1.0l2.0-1.7l2.1-1.5l1.9-1.5l1.3-1.8l1.1-1.8l1.8-.9l1.4-.2l1.7-3.5l.2-1.4l.2-1.6l.2-1.9l.0-2.0l-.2-2.3l-.5-2.3l.1-2.4l.6-2.5l.2-2.5l-.1-2.5l.1-2.4l.3-2.3l.2-2.2l.2-2.0l.5-1.8l.5-1.6l.4-1.2l.3-3.8l.9-.6l1.1-1.0l1.1-1.8l1.3-2.2l1.2-2.4l1.4-1.9l1.8-2.3l1.4-2.3l1.8-1.7l2.7-.0l2.4 1.1l2.4 .7l2.5 1.6l1.4 1.5l1.8 1.9l1.6 2.2l.7 2.4l-.2 2.1l-.3 2.1l-.1 2.2l.2 1.9l.4 2.2l.8 2.4l1.0 2.2l1.0 2.0l1.3 2.0l1.9 1.2l2.2 .0l1.8-.6l2.0-.8l2.3-.8l2.3-1.3l1.8-1.3l2.0-1.5l2.0-1.6l2.0-1.4l2.1-.6l2.4 .5l1.9 1.0l2.0 .8l2.0 1.0l1.5 1.2l1.3 1.6l1.4 1.8l1.4 1.7l1.3 1.9l1.2 1.8l1.6 1.7l1.9 1.5l1.4 1.5l1.0 1.4l2.3 2.5l2.4 .6l2.5-1.2l2.0-3.0l.2-1.8l.0-2.1l.4-2.2l.6-2.1l.5-1.9l.7-2.2l1.1-2.1l1.6-1.7l1.8-1.3l2.1-1.0l2.3-.3l2.3 .3l1.9 .3l2.3 .5l2.1 1.2l1.4 2.1l.4 1.9l.2 2.4l.3 2.5l.7 2.4l1.2 1.6l1.6 1.4l1.5 1.4l1.1 1.9l.8 1.9l1.2 2.3l1.4 2.2l1.2 2.2l.9 1.9l1.1 2.4l.6 2.3l.4 2.2l.8 2.3l1.4 2.2l1.4 1.8l1.0 2.1l.6 2.6l.4 1.8l.3 2.0l-.0 2.2l.0 2.1l.5 2.1l.7 1.9l.4 2.1l-.0 2.1l-.1 2.0l.1 1.9l.1 2.1l-.1 2.2l-.3 2.2l-.1 2.0l.1 1.6l.0 2.4l-.6 2.3l-.7 1.7l-.6 2.0l-.5 2.2l-.8 2.2l-.9 2.0l-.7 1.9l-.5 2.0l-.6 1.9l-.5 2.1l.1 2.2l.8 2.2l.9 2.2l.4 2.4l.2 2.5l.2 2.4l-.2 2.1l-.5 2.2l-.5 2.2l-.3 2.2l-.6 1.7l-.7 1.3l-2.2 1.1l-.5 1.7l.0 2.0l.3 2.2l.1 2.3l-.1 2.2l-.2 2.0l-.3 2.1l-.6 2.0l-.9 1.9l-.6 2.0l-.4 2.2l-.5 2.1l-1.1 1.9l-1.4 1.8l-1.1 1.9l-1.1 2.0l-1.1 2.0l-1.0 2.1l-.6 2.2l-.6 2.1l-1.3 2.2l-1.5 1.9l-1.2 2.0l-1.1 2.3l-1.2 1.9l-1.5 1.8l-1.5 1.8l-1.5 1.5l-1.3 1.1l-2.3 2.7l-.9 1.5l-.9 2.1l-1.2 2.0l-1.4 1.6l-1.7 1.8l-1.6 1.7l-1.7 1.7l-1.8 1.9l-1.5 2.4l-1.1 1.5" stroke="#d3f0e9" stroke-width="1.30"/>
<path d="M566.6 277.5l-1.8-1.1l-2.1-2.1l-1.7-2.5l-1.9-1.7l-2.0-1.8l-1.3-2.1l-1.0-2.3l-1.0-1.9l-.7-1.9l-.1-1.8l.5-2.0l.7-2.2l.9-2.1l1.1-2.1l1.5-2.0l1.1-2.2l.6-2.4l.5-1.7l.7-1.8l.7-1.9l.4-2.1l.1-2.3l.3-1.8l.9-1.8l1.2-1.9l.9-2.0l.6-2.0l.3-2.1l.1-1.8l-.4-2.2l-.8-1.9l-.8-1.9l-.5-2.0l-.1-2.0l-.2-2.1l-.1-2.2l.4-2.2l1.2-1.9l1.6-1.4l1.5-1.3l1.7-1.4l2.0-1.3l2.1-1.1l1.8-1.3l1.3-1.9l1.0-2.0l.7-2.2l.3-2.2l-.0-2.1l-.2-1.7l-.3-1.9l-.4-2.2l-.8-2.0l-1.1-1.9l-.4-2.0l.4-2.0l.9-1.9l.7-1.9l.4-2.0l.2-2.0l.4-1.9l.7-2.1l.7-2.1l.6-2.0l.7-1.9l.5-2.0l.1-2.6l-.1-2.7l.6-2.5l1.4-1.9l1.4-1.4l1.4-1.5l1.7-1.3l2.0-.9l2.2-.4l2.1-.5l2.1-1.0l2.0-1.4l1.6-1.2l1.7-1.4l1.7-1.5l1.7-1.4l1.6-1.3l1.4-2.1l1.0-2.4l1.1-2.2l1.7-1.6l1.6-1.6l.9-1.5l.9-1.8l1.3-1.6l1.9-1.3l2.0-1.1l1.6-1.4l1.6-1.6l1.4-1.5l1.6-1.7l1.3-1.5l1.6-1.6l2.0-1.3l2.0-1.1l2.0-1.4l1.9-1.7l2.2-1.0l2.5-.6l2.3-.8l1.9-1.4l1.9-1.5l2.0-.9l2.2-.8l2.2-.9l2.0-.7l2.0-.3l2.5 .3l2.4 .9l2.2 1.9l1.0 1.9l1.0 2.1l1.5 2.0l1.6 1.8l1.2 1.9l1.2 2.3l1.7 1.9l2.0 1.3l1.9 1.1l2.4 1.4l2.2 1.2l2.0 .5l2.5-.7l2.4-1.7l1.9-1.8l2.4-1.6l2.6-.1l1.8 .5l2.2 .5l2.4 .7l1.9 1.2l2.2 1.8l2.3 1.3l2.3 .9l2.9 .7l2.4 1.3l1.2 1.9l.6 2.4l.3 2.8l.4 1.8l.4 1.9l.1 2.1l-.3 2.2l-.4 2.1l.2 2.1l.8 1.9l.8 1.9l.4 2.0l.2 2.1l.3 2.1l.6 2.0l.6 2.0l.5 2.0l.2 1.9l-.0 2.4l-.6 2.2l-1.0 2.0l-.9 1.6l-1.5 2.4l-1.4 2.6l-.7 1.6l-.9 1.9l-.6 2.1l.1 2.3l.4 2.1l.3 2.0l.2 1.9l.2 2.0l.3 2.0l.0 2.2l-.2 1.9l-.4 2.0l-.4 2.1l-.5 2.0l-.9 1.8l-.9 1.8l-.5 2.2l.2 2.1l.4 2.1l-.1 1.9l-.6 1.8l-.7 2.0l-.5 2.0l-.2 2.1l-.4 2.2l-.6 1.9l-.8 2.0l-.8 2.0l-.8 2.0l-.8 2.0l-.4 2.0l-.0 2.1l-.2 2.0l-.7 1.9l-1.0 1.9l-.9 1.8l-.6 2.2l-.6 2.3l-1.1 2.0l-1.3 1.9l-1.0 2.0l-.7 2.2l-.8 2.1l-.9 2.0l-1.1 2.0l-1.1 2.0l-1.3 1.9l-1.4 1.8l-.9 1.9l-.8 1.9l-1.6 2.3l-2.1 1.5l-1.9 1.7l-1.2 2.4l-1.2 2.4l-1.7 1.9l-2.1 1.8l-1.8 2.1l-1.2 1.4" stroke="#aadcf0" stroke-width="1.40"/>
<path d="M571.5 277.5l-1.2-1.3l-1.4-2.1l-1.0-2.4l-1.3-1.8l-1.4-1.6l-1.3-1.7l-1.1-2.0l-1.1-2.2l-1.0-2.2l-.3-2.1l.4-2.1l1.0-2.4l.5-1.7l.5-2.1l.5-2.2l.8-2.1l.9-2.0l.7-1.9l.7-2.0l.9-1.8l1.1-1.9l.9-2.1l.5-1.9l.3-2.2l.6-2.1l.9-2.0l.9-1.9l.8-2.0l.7-2.0l.9-1.9l.9-2.0l.6-2.0l.4-2.0l.5-1.9l1.0-2.1l1.1-2.1l.7-2.1l.3-1.9l.3-1.5l1.5-3.1l.5-1.7l.5-2.1l.7-2.3l1.1-2.1l1.1-2.0l.5-2.0l.1-2.1l.1-2.0l.3-2.0l.6-2.0l.6-2.0l.4-2.1l.7-1.9l.9-1.9l.8-1.8l.6-2.4l.5-2.3l1.1-2.3l1.7-2.0l1.5-1.3l1.5-1.4l1.7-1.4l1.8-1.3l1.7-1.3l1.3-1.4l1.5-2.2l1.5-1.9l1.8-1.7l1.7-1.8l1.2-1.8l1.2-1.8l1.2-1.8l1.2-1.8l1.0-1.9l1.1-2.2l1.4-2.0l1.6-1.9l1.3-2.0l1.1-2.3l1.2-2.2l1.5-2.0l1.3-1.8l1.5-2.4l1.5-2.1l1.6-1.9l1.2-1.6l1.0-1.7l1.1-1.8l1.6-1.4l2.1-1.2l2.2-1.2l2.3-1.2l2.2-1.0l2.2-.8l2.1-.9l2.1-1.0l1.9-.7l2.7-.7l2.2-.5l1.8-.2l1.7 .6l1.8 1.4l1.8 1.9l1.4 1.4l1.5 1.7l1.2 1.8l1.0 1.7l1.3 2.0l1.6 1.4l2.0 1.5l1.6 1.5l1.5 2.0l1.6 2.0l1.7 1.5l2.2 2.0l2.3 1.8l2.4 .4l1.5-1.3l1.2-2.0l1.9-1.6l2.4-1.1l2.4-1.2l2.3-.7l2.4 .4l2.3 1.0l2.0 1.2l1.3 1.5l.7 1.9l.3 2.1l.4 2.2l.5 1.8l.7 1.9l.5 2.1l.2 2.1l.1 2.0l.1 2.1l-.3 2.1l-.6 2.0l-.6 2.0l-.3 1.9l.5 2.4l.8 2.3l.4 2.1l.2 1.6l-.2 1.3l-.8 1.6l-1.0 2.4l-.7 2.7l-.0 1.9l.5 1.9l.9 2.1l.6 2.1l-.1 2.1l-.6 2.0l-.6 2.0l-.4 1.9l-.4 2.0l-.6 2.1l-.4 2.3l-.2 2.4l-.2 2.5l-.5 2.3l-.7 2.2l-.4 2.3l.1 2.3l.1 2.3l-.2 1.9l-.3 1.6l-.8 1.4l-.4 1.6l-.6 2.3l-1.2 2.6l-.8 1.7l-.6 1.9l-.2 2.2l-.3 2.2l-.6 2.0l-.6 2.0l-.4 2.0l-.2 2.0l-.2 2.0l-.5 2.0l-.4 2.1l-.2 2.1l-.2 2.2l-.7 2.0l-1.1 1.9l-1.4 1.9l-1.2 1.9l-1.0 2.0l-1.1 2.0l-1.1 1.9l-1.0 2.1l-.8 2.2l-1.0 2.0l-1.3 1.7l-1.1 1.6l-1.4 2.5l-1.2 2.3l-1.5 2.0l-1.8 1.9l-1.8 1.9l-1.7 1.8l-1.8 1.7l-1.4 1.8l-.8 1.4" stroke="#a9b6e6" stroke-width="1.45"/>
<path d="M575.9 277.3l-.9-2.4l-1.9-2.8l-.9-1.6l-.9-1.9l-.7-1.9l-.8-2.0l-.4-2.2l-.2-2.4l-.5-1.8l-.4-2.1l.1-2.1l.6-2.2l.3-1.9l.5-2.0l.8-2.0l.8-2.0l.4-2.1l.5-2.1l1.0-1.9l1.2-1.8l.9-2.0l1.0-2.1l1.0-1.8l.8-2.0l.3-2.2l.4-2.2l.9-2.0l.8-1.9l.9-2.1l1.1-1.9l1.3-1.8l.9-1.9l.5-2.1l.6-2.1l1.0-2.1l.7-2.1l.6-2.0l.7-1.6l1.4-2.2l.9-2.0l.3-2.6l.3-1.7l.4-2.0l.2-2.2l.4-2.1l.8-1.9l1.0-2.1l.5-2.1l.4-2.1l.8-2.0l1.0-2.0l.8-2.2l1.1-2.1l1.5-1.9l1.0-1.7l.9-2.1l1.1-1.8l1.5-1.7l1.4-1.7l1.6-1.7l2.1-1.2l2.1-1.3l1.6-1.8l1.6-1.8l1.8-1.6l1.5-1.7l1.6-1.7l1.8-1.5l1.8-1.6l1.0-1.8l.8-1.9l1.1-1.8l1.1-1.7l.9-1.8l1.1-1.5l2.0-1.9l1.8-1.9l1.1-2.1l.9-2.1l.9-2.4l.4-2.3l.6-2.3l1.4-2.0l1.5-2.0l1.5-1.9l1.9-1.1l2.4-.4l2.4-.4l2.0-.4l2.3 .3l2.1 .5l2.0 .2l2.5 .0l2.2 .5l1.9 .7l1.7 1.4l1.1 2.3l.8 2.4l1.0 1.7l1.4 1.6l1.3 1.6l1.3 1.8l1.7 1.6l1.7 1.6l1.3 2.0l1.5 2.1l1.7 1.2l1.8 1.1l1.7 1.2l1.9 .9l1.9 .7l2.1 1.1l1.6 1.7l1.5 1.6l1.5 1.6l1.1 2.1l.7 2.4l1.0 2.2l.7 1.7l.3 3.2l.5 2.0l1.0 2.2l.7 2.6l.3 1.7l.6 1.9l.8 2.1l.2 2.1l-.1 2.1l.0 2.0l.3 2.0l.0 2.0l-.1 2.1l.0 2.0l.2 2.0l-.3 2.0l-.7 2.0l-.7 1.9l-.4 2.0l-.4 2.0l-.6 1.9l-.3 2.0l.1 2.1l-.1 2.1l-.7 2.0l-.7 1.9l-.6 2.0l-.7 2.0l-.9 1.9l-.5 2.0l-.1 2.1l-.1 2.0l-.5 2.0l-.5 2.0l-.3 2.0l-.2 2.0l-.4 2.0l-.3 2.0l.0 2.1l-.0 2.2l-.6 2.0l-.9 2.0l-.8 2.0l-1.0 1.9l-1.4 1.8l-1.2 1.9l-.8 2.2l-.8 2.1l-1.2 1.9l-1.0 2.0l-.9 2.2l-1.1 1.9l-1.2 1.9l-.7 1.8l-.9 2.7l-1.4 1.9l-1.5 1.7l-1.5 1.9l-1.8 1.8l-1.8 1.5l-1.3 2.1l-.8 2.2l-.8 1.4" stroke="#bc98d8" stroke-width="1.50"/>
<path d="M579.2 277.3l-.9-2.3l-1.1-2.9l-.9-2.4l-.2-2.8l-.1-1.8l-.3-1.8l-.5-3.1l.0-1.6l.5-1.8l.6-2.0l.2-2.2l-.0-2.4l-.0-2.3l.1-2.2l.2-2.1l.3-1.8l.8-2.3l1.2-2.0l.8-1.9l.5-1.9l.5-1.8l.9-1.8l1.5-1.9l1.3-1.8l.9-2.1l.7-2.1l.7-2.1l.5-2.1l.5-2.0l.5-2.1l1.0-1.9l.9-1.9l.8-2.1l.7-2.1l1.2-2.0l1.6-1.7l1.4-1.9l.7-2.4l.5-2.4l.5-2.5l.4-2.3l.3-2.2l.6-2.3l.5-2.0l.3-2.0l.1-2.1l.4-2.3l1.0-2.1l1.5-1.8l1.4-1.8l1.2-1.8l1.5-1.8l1.8-1.6l1.8-1.7l1.5-1.4l1.7-1.3l1.8-1.2l1.5-1.5l1.4-1.9l1.5-1.7l2.1-1.3l2.1-1.3l1.7-1.7l1.5-1.8l1.5-1.6l1.5-1.6l1.3-1.6l1.3-1.6l1.3-1.6l1.4-2.1l.8-2.5l.6-2.4l1.3-2.0l2.2-1.9l1.7-1.8l1.7-1.8l2.1-1.3l2.4-.8l2.3-.4l2.1 .1l2.2 .6l2.1 .7l2.6 .5l2.6 .9l2.0 2.0l1.1 1.8l1.3 1.7l1.4 1.6l1.3 1.6l1.1 1.8l1.1 1.9l1.1 1.8l1.1 1.8l1.0 1.7l1.3 1.6l1.6 1.3l1.7 1.3l1.3 1.6l1.0 1.8l1.1 1.8l1.4 1.7l1.7 1.7l1.4 2.1l1.0 2.3l.9 2.3l.8 2.2l.6 2.1l.7 2.1l1.1 2.0l.6 1.9l.2 2.0l-.2 2.0l.0 2.1l.4 2.0l.5 2.1l.1 2.2l-.4 2.1l-.4 2.0l-.5 1.7l-1.0 2.2l-1.3 1.8l-.7 2.3l-.0 1.9l-.0 2.0l-.4 2.1l-.5 2.0l-.2 2.1l.2 2.1l.2 2.1l-.2 2.0l-.4 2.0l-.5 2.0l-.4 2.0l-.5 2.0l-.5 1.9l-.4 2.0l-.2 2.1l-.5 2.0l-.9 1.9l-1.2 1.9l-.7 1.9l-.3 2.2l-.5 2.3l-.9 2.1l-1.2 1.9l-1.0 2.0l-1.0 2.0l-.9 2.0l-.7 2.0l-.4 2.1l-.6 1.9l-.9 1.6l-2.0 1.9l-1.5 1.8l-1.0 2.1l-1.1 2.3l-1.4 2.0l-1.4 1.8l-1.2 2.1l-1.2 2.0l-.8 1.4" stroke="#cc80c6" stroke-width="1.60"/>
<path d="M581.5 277.3l-.7-1.9l-1.0-2.5l-.5-1.9l-.3-2.0l-.4-2.1l-.5-1.7l-.4-1.8l.6-3.2l.6-1.5l.5-1.7l.2-2.0l-.1-2.2l.0-2.3l.2-2.3l.3-2.3l.6-2.1l.8-1.9l.8-1.6l.7-2.4l.5-2.3l.9-1.9l1.2-1.6l1.1-1.6l.7-1.8l.6-2.4l.7-2.2l.9-2.1l.9-2.0l1.2-1.8l1.9-1.8l1.6-1.8l1.0-2.2l.8-2.4l1.0-1.9l1.1-2.0l.8-2.1l.5-2.2l.5-1.9l.8-2.2l.6-2.0l.6-1.9l1.0-1.9l1.0-2.0l.4-2.1l-.1-2.2l.1-2.1l.8-1.9l1.4-1.6l1.4-1.6l1.5-1.7l1.4-1.4l1.7-1.3l1.8-1.3l1.8-1.3l1.9-1.2l2.0-.9l1.8-1.1l1.5-1.7l1.2-1.9l1.3-1.6l1.6-1.5l1.6-1.5l1.4-1.8l1.4-1.6l1.3-1.5l1.4-1.7l1.1-1.7l1.3-1.5l1.4-1.3l1.5-1.7l.9-2.0l.8-2.2l1.1-1.7l2.7-1.5l2.7-.5l3.0-.2l2.9 .3l1.9 .1l2.0 .0l2.0 .6l1.6 1.0l1.6 1.2l1.8 1.2l2.1 1.5l1.1 1.4l.6 2.0l.3 2.1l.4 2.2l.5 2.2l.5 2.0l.7 1.7l1.7 2.2l1.7 1.8l1.1 1.9l1.0 2.3l1.1 1.9l1.4 1.8l1.1 2.0l.7 2.2l.6 2.2l.6 2.1l.6 2.0l.7 2.0l.9 1.9l1.2 1.9l.7 2.1l.1 2.3l-.2 2.2l.3 2.0l.4 1.5l.9 3.1l-.3 1.6l-.2 1.9l-.2 2.2l-.3 2.2l-.4 2.1l-.2 2.0l-.1 2.3l-.5 2.1l-1.0 1.9l-1.2 1.8l-.7 2.0l-.2 2.0l-.1 2.0l-.4 2.0l-.5 2.0l-.4 2.0l-.5 2.1l-.7 2.0l-.7 2.0l-.4 2.2l-.5 2.2l-1.3 2.0l-1.7 1.6l-1.5 1.8l-.9 2.1l-.5 2.1l-.6 2.1l-.5 2.1l-.4 2.0l-.6 1.7l-1.5 2.2l-1.4 1.9l-1.2 2.1l-1.6 2.1l-2.3 1.5l-2.0 1.6l-1.3 2.1l-.9 2.2l-.7 1.4" stroke="#de5a9c" stroke-width="1.70"/>
<path d="M585.4 277.1l-.5-2.4l-1.3-2.8l-.8-2.4l-.4-2.7l-.4-1.7l-.5-1.9l-.0-3.0l.2-1.7l.1-2.0l.0-2.2l.2-2.3l.8-2.3l1.0-2.1l.7-2.1l.4-1.8l.8-2.4l.8-2.1l.5-2.0l.5-2.0l.6-1.9l1.3-2.2l1.6-1.9l1.3-2.1l1.2-2.1l1.4-2.0l1.3-2.0l1.1-2.2l1.3-2.1l1.5-1.4l1.6-1.5l1.2-1.7l.9-1.9l.8-1.8l.7-2.2l.4-2.1l.1-2.2l.5-2.1l.8-1.9l.8-2.0l.6-2.0l.5-1.9l1.0-1.7l1.2-1.6l1.4-1.6l1.2-1.9l1.4-1.8l1.8-1.5l1.9-1.5l1.6-1.9l1.4-1.9l1.6-1.7l1.7-1.6l1.7-1.7l1.4-1.6l1.8-1.4l1.8-1.4l1.4-1.7l1.0-1.8l1.0-2.1l1.1-1.9l1.2-1.7l1.0-1.6l1.6-1.6l1.7-1.0l2.0-.5l2.2-.3l2.2-.4l2.3-.3l2.4 .2l2.3 .6l2.0 .5l1.7 .8l1.4 1.7l.9 1.6l1.3 1.8l1.9 1.7l1.8 1.8l1.2 1.6l1.3 1.8l1.4 1.8l1.2 1.8l.8 1.9l.7 2.2l.9 2.1l1.1 1.9l.9 2.1l.7 2.1l.9 2.0l1.0 2.0l.8 2.2l.5 2.1l.7 2.3l.9 2.1l.7 2.0l.2 1.4l.6 1.5l-.4 1.6l-.4 1.9l-.3 2.2l-.4 2.2l-.3 2.2l-.1 2.0l.2 2.1l.1 2.1l-.3 2.0l-.6 2.0l-.4 2.0l-.2 2.0l-.3 2.0l-.6 2.0l-.6 1.9l-.6 2.1l-.7 2.1l-1.0 1.9l-1.4 1.9l-1.0 1.9l-.6 2.1l-.4 2.1l-.5 2.1l-.5 2.0l-.2 2.2l-.4 2.1l-.7 2.0l-1.1 1.9l-1.1 1.7l-.9 1.6l-1.5 2.3l-1.8 1.8l-1.7 1.9l-1.4 2.3l-1.7 2.0l-1.8 1.7l-1.4 2.0l-.9 2.2l-.6 1.5" stroke="#d8584e" stroke-width="1.80"/>
<path d="M589.7 277.5l-.7-2.5l-.7-3.1l-1.1-2.4l-.8-2.6l-.4-1.9l-.4-2.0l-.1-2.8l.6-1.9l.7-2.1l.2-2.4l.1-2.5l.3-2.3l.3-2.1l.4-2.7l1.0-2.1l1.5-1.7l1.3-1.9l1.1-2.1l1.4-2.0l1.4-2.1l1.1-2.2l1.2-2.1l1.7-1.8l1.5-2.0l1.1-2.2l1.1-2.2l1.1-2.2l.7-2.4l1.1-2.3l1.9-1.7l2.1-1.4l1.8-1.6l1.6-1.5l1.5-2.0l.7-2.2l1.0-2.6l1.4-1.6l1.6-1.9l1.4-2.1l1.4-2.0l1.4-1.8l1.0-2.1l.8-2.0l1.0-1.6l1.4-1.6l1.4-1.9l1.3-2.0l1.6-1.9l1.6-2.0l1.0-2.4l1.1-2.4l1.4-2.0l1.3-1.7l1.5-1.6l1.7-.9l1.8-.6l2.7-1.1l3.0-1.1l3.2 .1l2.8 .3l1.9 1.0l.8 1.5l.9 2.0l1.3 2.0l1.4 1.8l1.1 1.9l.7 2.1l1.0 2.1l.9 2.1l.5 2.1l.4 2.2l.9 2.0l1.0 2.0l.5 2.2l.3 2.2l.6 2.1l.5 1.7l.8 1.8l1.3 1.7l1.0 1.7l.5 1.5l.2 2.0l.1 2.1l.4 2.2l.3 2.1l-.0 2.0l-.5 2.0l-.3 2.0l.1 2.0l-.0 2.0l-.2 2.0l.1 2.1l.2 2.0l-.2 2.1l-.8 1.9l-1.1 1.9l-1.0 1.9l-1.0 2.0l-1.1 2.0l-.8 2.0l-.2 2.2l-.4 2.2l-.7 2.0l-.9 1.9l-.5 2.0l-.4 2.1l-.5 2.0l-.5 2.0l-.2 2.0l-.4 1.9l-1.7 2.2l-2.2 1.6l-1.9 1.7l-1.6 1.4l-1.8 1.2l-1.5 1.6l-.9 1.8l-1.1 2.3l-1.2 1.9l-.8 1.4" stroke="#b97a26" stroke-width="1.85"/>
<path d="M596.4 277.1l-1.2-2.3l-1.5-2.9l-1.8-2.2l-1.5-2.5l-.5-2.0l.1-2.2l.6-2.8l.3-1.9l.1-2.2l.5-2.5l1.0-2.3l1.0-2.2l.6-2.0l.9-2.4l1.0-2.1l1.1-2.1l1.1-2.3l.9-1.6l1.3-1.5l1.5-1.5l1.4-1.6l1.0-1.7l.9-1.9l1.1-1.7l1.3-1.5l1.5-1.5l1.4-1.5l1.0-1.7l.9-1.9l.9-1.8l1.0-1.9l1.0-1.8l1.0-1.8l1.1-1.6l1.2-1.5l1.5-2.0l1.1-2.0l.9-2.2l1.4-2.2l1.6-1.3l1.9-1.3l1.6-1.5l1.3-1.9l1.1-1.9l1.1-1.7l1.5-2.3l1.1-2.2l1.1-2.1l1.3-1.9l1.3-1.8l1.2-1.9l1.1-1.8l1.2-1.4l2.1-1.3l1.8-.3l1.9-.1l2.0-.2l2.3 .0l2.1 .5l1.6 1.7l1.0 1.3l1.4 1.7l1.5 1.7l1.3 1.9l1.0 2.0l1.0 2.0l.9 2.1l.6 2.3l.1 2.0l.0 2.1l.4 2.0l.8 1.9l.8 1.9l.6 2.0l.2 2.0l.1 2.1l.4 2.0l.5 2.0l.5 1.9l.3 2.0l.2 2.1l.2 2.0l.0 2.0l-.2 2.0l-.3 2.1l-.3 2.0l.1 1.9l.1 2.0l-.2 2.1l-.8 2.0l-1.0 1.9l-.9 2.0l-.4 2.1l-.3 2.1l-.4 2.1l-.7 2.1l-.7 2.0l-.7 1.9l-.8 2.0l-.7 1.9l-.7 2.0l-.4 1.9l-.4 1.7l-1.3 2.5l-2.1 1.6l-2.0 1.5l-1.7 1.9l-1.6 2.2l-1.7 1.9l-2.0 2.1l-2.0 2.2l-1.3 1.6" stroke="#75883a" stroke-width="1.90"/>
<path d="M598.2 277.5l-.4-2.6l-1.1-3.0l-1.3-2.4l-.8-2.7l-.5-1.7l-.4-1.9l.7-3.0l.7-1.5l.5-2.0l.2-2.5l.5-2.5l1.0-2.4l.8-2.3l1.1-1.9l1.2-1.5l1.8-2.0l1.0-1.4l1.0-1.5l1.3-1.7l1.1-1.5l1.0-1.7l1.0-1.9l1.1-1.8l1.4-1.6l1.1-1.6l1.0-2.0l1.0-1.9l1.5-1.5l1.6-1.4l1.5-1.7l1.3-1.4l1.5-1.5l1.4-1.6l.9-1.9l.6-2.0l.8-1.8l1.4-2.2l1.2-2.2l1.1-2.1l1.4-1.8l1.5-1.6l1.1-1.6l1.0-1.7l1.4-1.5l1.6-1.7l1.5-1.9l1.2-2.0l1.3-1.5l1.6-1.5l1.4-1.5l1.5-1.3l3.5-.6l3.4 1.0l1.6 .9l1.6 1.9l1.1 2.0l1.6 2.2l1.6 2.4l.8 1.9l.7 2.1l.9 2.0l.9 2.1l.4 1.9l.3 2.0l.5 2.0l.4 2.1l-.2 2.0l-.4 2.1l-.1 2.0l.1 2.0l.1 2.0l.0 2.0l.2 2.0l.6 2.0l.3 2.1l-.1 2.0l-.4 2.0l-.2 2.0l-.0 2.0l-.3 2.1l-.5 2.0l-.5 2.0l-.4 2.1l-.9 1.9l-1.3 1.8l-1.1 1.9l-.4 2.1l-.2 2.2l-.3 2.1l-.2 2.1l-.1 2.0l-.5 1.9l-1.8 1.9l-2.0 1.3l-1.9 1.6l-1.5 1.3l-1.9 1.0l-1.8 1.2l-1.6 1.5l-1.4 1.8l-1.8 1.8l-1.4 1.8l-.6 1.5" stroke="#2f8f4c" stroke-width="2.10"/>
<path d="M600.6 277.3l-1.0-2.3l-.2-3.2l-.4-2.5l-.7-2.5l-.4-1.9l-.3-2.1l-.3-2.7l.3-1.8l1.0-1.8l1.1-2.0l.6-2.1l.6-2.1l.9-1.8l1.5-2.2l1.3-2.1l1.7-1.7l1.4-1.8l.9-2.0l.7-2.1l1.0-1.7l1.6-1.6l1.6-1.6l1.6-1.6l1.9-1.5l1.7-1.8l1.2-1.8l1.4-1.5l1.8-1.3l1.7-1.5l1.2-1.9l.9-1.8l.9-1.8l1.0-1.9l.8-1.9l1.1-1.7l1.4-1.4l1.4-1.7l.9-2.1l.9-1.9l1.4-1.5l1.4-1.0l2.2-1.3l2.1-.7l1.7-.5l3.2-1.3l3.5-.7l1.7 1.5l1.5 1.5l3.5 1.2l.6 1.6l.4 2.0l.4 2.2l.2 2.3l-.4 2.2l-.5 1.9l-.0 2.0l.2 2.1l.0 2.0l-.1 2.0l-.0 2.0l-.0 2.1l-.4 2.0l-.4 2.0l.0 2.0l.1 2.1l-.3 2.0l-.9 1.9l-.8 2.0l-.4 1.9l-.4 2.1l-.4 2.0l-.1 2.0l.2 2.1l-.1 2.0l-.6 2.6l-.1 2.6l.3 2.5l-.4 2.2l-1.3 1.8l-1.5 1.2l-1.8 1.2l-1.9 1.0l-2.0 1.1l-1.6 1.8l-1.2 2.0l-1.4 1.8l-1.5 2.0l-1.1 2.0l-.9 1.3" stroke="#0f7a43" stroke-width="2.20"/>
<path d="M606.5 277.2l-.3-1.9l-.8-2.7l-.9-2.3l-.5-2.7l.1-2.4l.4-2.3l.3-2.9l.3-1.9l.6-2.1l.7-2.2l.7-1.8l1.1-1.8l1.2-1.3l1.4-1.6l1.2-1.5l1.6-1.4l1.9-1.1l1.8-1.2l1.3-1.6l.8-2.0l.9-2.0l1.4-1.7l1.8-1.5l1.9-1.5l2.0-1.5l1.9-1.3l1.7-1.7l1.4-2.0l1.5-1.7l1.6-1.1l3.4-1.4l1.8 .6l1.2 1.6l.4 1.9l-.0 2.4l-.0 2.6l.1 2.0l.2 2.2l.2 2.2l.7 2.0l.9 2.1l.6 2.1l-.0 2.2l-.3 1.9l-.2 2.4l-.3 2.3l-.6 2.2l-1.0 2.1l-1.1 2.0l-1.2 2.0l-1.3 1.9l-1.3 2.0l-.7 2.1l-.7 2.8l-1.2 2.5l-1.0 2.1l-.6 2.3l-.2 1.7" stroke="#0b5a4e" stroke-width="2.30"/>
<path d="M608.6 277.3l-.6-2.4l-.3-3.0l.2-2.6l.2-2.6l1.1-2.5l1.7-2.1l1.3-2.0l1.9-2.1l2.0-1.5l2.2-2.0l2.1-1.2l3.5-1.3l2.5-.9l2.7-.1l2.7 3.1l.5 2.8l-.6 3.3l-.0 2.2l.3 2.3l-.2 2.2l-1.2 2.5l-1.1 2.4l-1.1 3.0l-.6 2.4" stroke="#0a3d55" stroke-width="2.30"/>
<path d="M610.2 277.3l.5-3.7l.3-2.1l.9-2.2l1.4-2.0l1.8-1.8l2.6-1.1l2.8 .0l2.3-.4l1.6-.1l1.7 1.8l.9 2.9l-.1 2.5l-.3 2.4l-1.4 3.7" stroke="#0a1f3c" stroke-width="2.30"/>
<path d="M612.6 277.1l1.8-3.4l2.2-.5l2.1-.1l3.5 .8l.9 3.4" stroke="#0c0c14" stroke-width="2.30"/>
</g>
<path d="M617.8 15.8V277.0" stroke="#333" stroke-width="0.7" stroke-dasharray="1.4 0.9" fill="none"/>
<path d="M474.9 247.2H760.8" stroke="#111" stroke-width="1" stroke-dasharray="2.2 1" fill="none"/>
<path d="M582.1 277.0V224.8H653.6V277.0" stroke="#111" stroke-width="1.1" fill="none"/>
<path d="M484.9 130.0L582.1 277.0M599.0 25.4L653.6 224.8" stroke="#111" stroke-width="1.1" fill="none"/>
<g clip-path="url(#cp1)"><path d="M618.3 277.0L652.0 181.0" stroke="#484848" stroke-width="2.0" fill="none"/></g>
<g clip-path="url(#cp1)"><path d="M611.2 34.9h3.3v3.3h-3.3zM612.5 38.6h3.3v3.3h-3.3zM614.2 42.3h3.3v3.3h-3.3zM614.6 46.0h3.3v3.3h-3.3zM614.6 49.7h3.3v3.3h-3.3zM614.6 53.4h3.3v3.3h-3.3zM614.6 57.1h3.3v3.3h-3.3zM614.4 60.8h3.3v3.3h-3.3zM614.4 64.5h3.3v3.3h-3.3zM614.4 68.2h3.3v3.3h-3.3zM614.4 71.9h3.3v3.3h-3.3zM614.9 75.6h3.3v3.3h-3.3zM615.9 79.3h3.3v3.3h-3.3zM659.4 82.4h3.3v3.3h-3.3zM659.1 85.7h3.3v3.3h-3.3zM658.6 89.1h3.3v3.3h-3.3zM658.0 92.4h3.3v3.3h-3.3zM656.9 95.8h3.3v3.3h-3.3zM653.2 99.7h3.3v3.3h-3.3zM652.0 103.0h3.3v3.3h-3.3zM651.0 106.4h3.3v3.3h-3.3zM647.3 109.7h3.3v3.3h-3.3zM643.6 113.1h3.3v3.3h-3.3zM643.6 116.5h3.3v3.3h-3.3zM652.9 119.3h3.3v3.3h-3.3zM644.8 123.2h3.3v3.3h-3.3zM644.8 126.5h3.3v3.3h-3.3zM647.0 129.9h3.3v3.3h-3.3zM648.5 133.2h3.3v3.3h-3.3zM650.3 136.6h3.3v3.3h-3.3zM653.7 139.9h3.3v3.3h-3.3zM654.5 143.3h3.3v3.3h-3.3zM653.2 147.0h3.3v3.3h-3.3zM643.6 150.0h3.3v3.3h-3.3zM643.6 153.3h3.3v3.3h-3.3zM643.6 156.7h3.3v3.3h-3.3zM651.0 160.1h3.3v3.3h-3.3zM650.3 163.4h3.3v3.3h-3.3zM650.3 166.8h3.3v3.3h-3.3zM648.5 170.1h3.3v3.3h-3.3zM644.8 173.5h3.3v3.3h-3.3zM644.8 176.8h3.3v3.3h-3.3zM645.6 180.2h3.3v3.3h-3.3zM646.5 183.6h3.3v3.3h-3.3zM647.0 186.9h3.3v3.3h-3.3zM647.0 190.3h3.3v3.3h-3.3zM647.0 193.6h3.3v3.3h-3.3zM646.5 197.3h3.3v3.3h-3.3zM645.5 199.8h3.3v3.3h-3.3zM644.2 203.3h3.3v3.3h-3.3zM642.9 206.8h3.3v3.3h-3.3zM641.7 210.3h3.3v3.3h-3.3zM640.4 213.8h3.3v3.3h-3.3zM639.2 217.3h3.3v3.3h-3.3zM638.0 220.6h3.3v3.3h-3.3zM636.9 223.8h3.3v3.3h-3.3zM635.7 226.9h3.3v3.3h-3.3zM634.6 229.9h3.3v3.3h-3.3zM633.6 232.9h3.3v3.3h-3.3zM632.6 235.7h3.3v3.3h-3.3zM631.6 238.5h3.3v3.3h-3.3zM630.6 241.1h3.3v3.3h-3.3zM629.7 243.7h3.3v3.3h-3.3zM628.8 246.2h3.3v3.3h-3.3zM627.9 248.7h3.3v3.3h-3.3zM627.1 251.0h3.3v3.3h-3.3zM626.3 253.3h3.3v3.3h-3.3zM625.5 255.5h3.3v3.3h-3.3zM624.7 257.7h3.3v3.3h-3.3zM624.0 259.7h3.3v3.3h-3.3zM623.2 261.8h3.3v3.3h-3.3zM622.5 263.7h3.3v3.3h-3.3zM621.8 265.6h3.3v3.3h-3.3zM621.2 267.5h3.3v3.3h-3.3zM620.5 269.4h3.3v3.3h-3.3zM619.8 271.3h3.3v3.3h-3.3zM619.1 273.2h3.3v3.3h-3.3z" fill="#fff" stroke="#000" stroke-width="0.95"/></g>
<rect x="484.9" y="25.4" width="114.0" height="104.6" fill="#fff"/>
<g clip-path="url(#ci1)" fill="none" stroke-linejoin="round" stroke-linecap="round">
<path d="M489.5 25.3C489.0 26.1 487.6 28.8 486.8 30.0C486.1 31.2 485.1 32.2 484.7 32.6" stroke="#cc80c6" stroke-width="1.02"/>
<path d="M498.0 25.3l-.9 1.5l-1.0 2.2l-1.1 2.6l-1.1 2.2l-1.0 1.8l-.9 1.7l-.9 1.8l-.9 1.8l-1.0 2.0l-.8 2.2l-.4 2.3l-.4 2.2l-1.0 2.6l-1.2 2.4l-.7 1.7" stroke="#de5a9c" stroke-width="1.09"/>
<path d="M507.6 25.3l-1.0 1.3l-1.7 1.8l-1.6 2.1l-1.2 2.1l-1.0 1.9l-1.0 1.7l-.8 1.8l-.5 2.0l-.4 2.5l-.6 2.5l-.6 2.5l-.8 2.4l-1.2 2.4l-1.5 2.2l-.9 1.9l-.8 2.1l-.8 2.0l-.7 1.8l-.6 2.4l-.6 2.2l-1.0 1.9l-1.6 2.2l-1.2 2.3l-.9 1.6" stroke="#d8584e" stroke-width="1.15"/>
<path d="M516.2 25.4l-.7 1.4l-1.4 1.8l-1.7 1.9l-1.3 1.8l-1.4 2.2l-1.6 2.1l-1.3 2.3l-.6 1.9l-.6 1.9l-.9 1.8l-1.0 1.8l-.9 2.4l-.6 2.5l-.9 2.6l-1.0 2.0l-1.0 2.2l-1.1 2.2l-1.3 1.9l-1.1 1.9l-.7 2.0l-.6 2.0l-.6 1.8l-1.1 2.2l-.9 2.0l-.6 2.1l-.6 2.1l-.5 2.1l-.1 2.1l.3 2.2l.3 2.3l-.1 1.8l-.2 1.3l-.5 1.7l-.3 2.2l.0 2.4l.1 2.4l.5 2.6l.6 2.3l.3 2.2l.1 2.1l.3 2.1l1.0 2.1l1.3 1.9l1.2 2.1l1.2 2.3l1.4 2.2l1.2 2.1l1.0 2.1l1.2 1.8l1.3 1.3l2.0 3.1" stroke="#b97a26" stroke-width="1.18"/>
<path d="M524.1 25.3l-.7 1.5l-1.1 2.1l-1.7 2.0l-1.7 1.7l-1.3 1.7l-1.0 1.8l-1.1 1.8l-1.1 1.9l-.9 2.2l-.9 2.2l-1.2 2.1l-1.2 2.0l-.8 2.0l-.6 2.0l-.7 1.9l-.9 1.8l-1.2 2.2l-1.3 2.1l-1.6 2.0l-1.2 1.7l-.8 1.8l-.6 2.0l-.6 1.9l-.8 1.9l-.9 1.8l-.8 1.9l-.5 1.8l-.7 2.2l-.4 2.0l.2 2.1l.4 2.0l.4 2.1l-.2 2.2l-.6 2.2l-.6 2.1l-.5 2.3l-.1 2.4l.3 2.5l.8 2.5l.4 2.5l.2 2.5l.8 2.4l1.3 2.0l1.3 2.1l1.4 2.0l1.6 2.1l1.2 2.3l.9 2.3l1.3 2.3l1.3 1.6l1.7 3.3" stroke="#75883a" stroke-width="1.22"/>
<path d="M535.8 25.3l-1.1 1.0l-1.6 1.5l-2.0 1.4l-2.3 1.0l-1.7 1.1l-1.8 1.8l-1.3 1.7l-1.1 1.9l-.6 2.4l-.7 2.5l-.9 2.5l-.4 2.0l-.4 2.2l-.8 1.9l-.9 1.6l-1.2 1.7l-1.6 1.6l-1.5 1.2l-1.7 1.4l-1.3 1.9l-1.3 1.8l-1.4 1.6l-1.3 1.7l-.7 1.9l-.6 2.0l-.7 1.9l-.7 1.9l-.5 2.0l-.7 1.8l-.9 2.3l-.3 2.5l.2 2.4l-.3 2.2l-.5 2.0l-.3 2.1l-.4 2.5l-.5 2.6l.3 2.6l.4 2.1l.2 2.0l-.0 2.2l.5 2.4l.8 2.5l.7 2.3l1.2 2.1l1.2 2.1l.9 2.4l1.2 2.3l1.8 2.0l1.3 1.9l1.3 2.3l1.1 1.8l1.5 3.4" stroke="#2f8f4c" stroke-width="1.34"/>
<path d="M548.5 25.4l-1.5 .8l-1.9 1.3l-2.0 1.8l-2.0 1.4l-1.9 1.0l-1.8 1.1l-1.6 1.3l-1.3 1.5l-1.5 1.8l-1.2 1.9l-.9 1.9l-.6 2.1l-.8 2.0l-1.2 2.0l-1.4 2.1l-.9 2.4l-.8 1.8l-1.0 1.4l-1.5 1.1l-2.0 1.6l-2.0 1.9l-1.8 1.8l-1.5 1.8l-1.2 1.9l-1.1 1.9l-1.4 1.8l-1.5 1.5l-1.3 1.8l-.8 1.9l-.4 2.0l-.4 2.6l-.3 2.5l-.4 2.4l-.4 2.1l-.6 2.1l-.5 2.0l-.2 2.2l.2 2.1l.2 2.3l-.0 2.4l.1 2.6l.7 2.4l1.0 2.4l.9 2.4l.8 2.4l.9 2.2l.8 2.2l.7 2.2l.9 2.3l1.4 2.1l1.3 1.7l1.3 2.2l.8 1.9l1.3 3.3" stroke="#0f7a43" stroke-width="1.41"/>
<path d="M567.1 25.6l-1.2 1.2l-2.0 1.5l-2.3 1.4l-1.9 1.6l-1.3 1.8l-1.2 1.7l-1.3 1.5l-1.5 1.4l-1.5 2.1l-1.3 2.2l-1.1 2.2l-1.0 2.3l-.7 2.3l-.9 1.9l-1.3 2.1l-1.0 2.1l-1.0 2.7l-1.5 2.7l-2.0 2.0l-2.3 2.0l-2.0 1.2l-2.2 1.4l-1.9 1.9l-1.4 1.6l-1.7 1.2l-1.8 1.1l-1.5 1.2l-1.3 2.1l-1.0 2.1l-.9 2.1l-.7 2.2l-.5 2.3l-.6 1.8l-.8 3.4l-.2 1.9l-.1 2.3l-.3 2.3l-.5 2.3l-.4 2.5l-.4 2.5l-.7 2.5l-.5 2.5l.1 2.3l.2 2.2l.2 2.2l.4 2.1l.8 2.1l.9 2.1l.7 1.9l.4 2.2l.3 1.8l.1 3.4" stroke="#0b5a4e" stroke-width="1.47"/>
<path d="M581.4 25.3l-.3 2.0l-.6 2.7l-.9 2.6l-.2 2.2l.3 2.1l.2 2.0l-.0 2.2l.2 2.1l.3 2.1l.2 2.2l.3 2.2l.7 1.9l.9 3.3l.1 1.9l.1 2.3l.0 2.2l-.2 2.1l-.5 2.1l-.2 2.1l-.0 2.1l-.3 2.1l-.8 2.1l-.6 2.4l-.4 2.5l-.4 2.5l-.1 2.4l-.0 2.2l-.2 1.8l-.4 2.3l-.3 1.8l-.1 2.3l-.3 2.2l-1.0 2.1l-1.2 2.1l-1.0 2.1l-1.1 2.0l-.9 2.0l-.5 2.2l-.2 2.3l-.5 2.1l-.7 2.2l-.9 2.2l-1.2 2.0l-1.4 1.9l-1.1 2.2l-.9 2.2l-1.0 1.8l-1.9 3.2" stroke="#0b5a4e" stroke-width="1.47"/>
<path d="M523.9 131.0l-.9-3.3l-.4-1.8l.2-2.3l1.0-2.4l1.0-2.8l.6-2.3l.6-2.5l.5-2.5l.4-2.5l.7-2.6l1.0-2.2l1.0-2.2l.8-2.3l1.0-2.1l1.5-1.7l1.9-1.3l1.8-1.4l1.7-1.4l2.0-1.3l2.0-1.2l1.7-1.6l1.3-1.9l1.1-1.9l2.1-2.1l2.0-1.6l3.1-1.3l3.2 .0l2.1 1.8l1.7 1.8l1.8 2.1l1.1 2.0l.3 2.4l-.1 2.4l-.0 2.7l-.2 2.6l-.2 2.2l-.0 2.0l.2 2.1l.3 2.5l-.0 2.5l-.4 2.4l-.4 2.2l-.3 2.1l-.5 2.0l-.8 2.2l-.8 2.1l-.6 2.0l-1.0 2.8l-1.3 2.2l-1.4 3.3" stroke="#0a3d55" stroke-width="1.47"/>
<path d="M528.1 131.0l-.8-3.3l-.2-3.0l.7-2.5l1.2-3.0l1.1-1.9l1.5-2.1l1.2-1.9l1.0-2.0l1.4-1.6l1.7-1.2l2.0-.9l2.2-.8l2.2-.7l2.9-1.2l2.2-1.8l3.0-2.5l2.4 .5l1.7 1.9l.8 2.2l.5 2.7l.3 2.0l.5 2.1l.5 2.2l-.1 2.1l-.4 2.2l-.2 2.0l-.1 2.9l-.3 2.3l-.4 1.9l.3 3.5" stroke="#0a1f3c" stroke-width="1.47"/>
<path d="M532.6 130.9l1.5-3.2l1.2-1.8l1.6-1.6l2.1-1.1l2.1-.7l3.1-.6l3.2-.0l3.1 1.8l1.1 1.9l1.1 2.0l.9 3.4" stroke="#0c0c14" stroke-width="1.47"/>
<path d="M485.1 122.3l1.4 2.1l1.7 2.1l2.1 1.4l1.5 1.7l1.1 1.6" stroke="#de5a9c" stroke-width="1.09"/>
<path d="M484.9 110.9l.9 1.8l1.4 2.4l1.2 2.3l1.1 2.5l1.6 2.1l2.6 1.5l2.3 1.5l2.7 2.5l2.0 3.4" stroke="#d8584e" stroke-width="1.15"/>
<path d="M599.2 74.9l-.5 1.3l-.7 2.0l-.9 2.1l-.8 2.2l-.5 2.0l-.6 2.6l-.7 2.1l-.9 1.7l-1.2 2.2l-1.1 2.1l-1.1 1.7l-1.3 1.8l-1.6 1.8l-1.9 1.6l-1.9 1.8l-1.6 1.8l-1.3 1.7l-1.0 1.7l-.8 1.9l-.3 2.2l-.3 2.3l-.8 2.2l-1.7 1.7l-1.8 1.4l-1.5 1.7l-1.6 2.7l-1.5 2.4l-1.6 3.3" stroke="#0f7a43" stroke-width="1.41"/>
<path d="M599.7 94.9l-1.2 1.2l-1.8 1.7l-1.8 2.0l-1.5 1.6l-2.3 2.1l-1.7 2.2l-1.9 2.5l-1.9 2.0l-1.2 2.4l-1.1 2.7l-1.3 1.9l-1.3 2.1l-1.0 2.1l-1.5 1.8l-1.9 1.5l-1.6 1.6l-1.5 2.8l-1.0 2.0" stroke="#2f8f4c" stroke-width="1.34"/>
<path d="M599.2 102.9l-1.1 1.4l-1.4 2.1l-1.6 1.9l-2.4 1.8l-2.3 2.0l-1.0 1.7l-.9 1.9l-.9 1.8l-1.2 1.7l-1.2 1.7l-1.2 1.5l-2.2 2.1l-2.2 2.0l-1.5 2.5l-.7 2.1" stroke="#75883a" stroke-width="1.22"/>
<path d="M599.1 108.7l-1.0 1.6l-1.7 2.1l-1.6 1.9l-1.6 2.3l-1.6 1.9l-1.1 2.0l-1.0 2.2l-1.9 1.9l-2.6 1.5l-2.3 2.5l-1.3 2.3" stroke="#b97a26" stroke-width="1.18"/>
<path d="M599.3 118.3l-1.4 1.3l-1.8 2.1l-1.4 2.0l-1.6 1.7l-1.6 1.4l-1.9 2.2l-1.3 2.0" stroke="#d8584e" stroke-width="1.15"/>
</g>
<path d="M542.0 25.4V130.0" stroke="#333" stroke-width="0.7" stroke-dasharray="1.4 0.9" fill="none"/>
<path d="M484.9 70.4H599.0" stroke="#111" stroke-width="1" stroke-dasharray="2.2 1" fill="none"/>
<path d="M570.8 26.6h3.2v3.2h-3.2zM566.3 33.4h3.2v3.2h-3.2zM563.4 40.3h3.2v3.2h-3.2zM562.0 46.8h3.2v3.2h-3.2zM561.5 53.1h3.2v3.2h-3.2zM559.4 60.2h3.2v3.2h-3.2zM557.5 66.9h3.2v3.2h-3.2zM553.6 73.9h3.2v3.2h-3.2zM552.6 80.5h3.2v3.2h-3.2zM551.5 87.1h3.2v3.2h-3.2zM551.5 94.2h3.2v3.2h-3.2zM549.9 101.2h3.2v3.2h-3.2zM548.4 107.9h3.2v3.2h-3.2zM547.3 114.5h3.2v3.2h-3.2zM541.5 121.9h3.2v3.2h-3.2zM540.1 135.0h3.2v3.2h-3.2z" fill="#fff" stroke="#000" stroke-width="0.95"/>
<g clip-path="url(#ci1)"><path d="M542.2 130.0L571.5 25.4" stroke="#333" stroke-width="1.0" fill="none"/></g>
<rect x="484.9" y="25.4" width="114.0" height="104.6" fill="none" stroke="#000" stroke-width="2.5"/>
<rect x="474.9" y="15.8" width="285.9" height="261.2" fill="none" stroke="#000" stroke-width="2.2"/>
<path d="M466.6 277.0H474.9M470.2 263.9H474.9M470.2 250.9H474.9M470.2 237.8H474.9M466.6 224.8H474.9M470.2 211.7H474.9M470.2 198.6H474.9M470.2 185.6H474.9M466.6 172.5H474.9M470.2 159.5H474.9M470.2 146.4H474.9M470.2 133.3H474.9M466.6 120.3H474.9M470.2 107.2H474.9M470.2 94.2H474.9M470.2 81.1H474.9M466.6 68.0H474.9M470.2 55.0H474.9M470.2 41.9H474.9M470.2 28.9H474.9M466.6 15.8H474.9M474.9 277.0V285.3M489.2 277.0V281.7M503.5 277.0V281.7M517.8 277.0V281.7M532.1 277.0V281.7M546.4 277.0V285.3M560.7 277.0V281.7M575.0 277.0V281.7M589.3 277.0V281.7M603.6 277.0V281.7M617.8 277.0V285.3M632.1 277.0V281.7M646.4 277.0V281.7M660.7 277.0V281.7M675.0 277.0V281.7M689.3 277.0V285.3M703.6 277.0V281.7M717.9 277.0V281.7M732.2 277.0V281.7M746.5 277.0V281.7M760.8 277.0V285.3" stroke="#000" stroke-width="2" fill="none"/>
<text x="476.5" y="312.6" text-anchor="middle" class="tk">−1.0</text>
<text x="547.8" y="312.6" text-anchor="middle" class="tk">−0.5</text>
<text x="619.4" y="312.6" text-anchor="middle" class="tk">0</text>
<text x="690.6" y="312.6" text-anchor="middle" class="tk">0.5</text>
<text x="762.6" y="312.6" text-anchor="middle" class="tk">1.0</text>
<g transform="translate(586.4,355)"><text x="-0.1" y="0" class="lb" textLength="21.6" lengthAdjust="spacingAndGlyphs">Δ</text><text x="22.7" y="0" class="lbi">x</text><text x="36.9" y="5" class="sl">/</text><text x="50.0" y="0" class="lbi">z</text><text x="60.2" y="3.7" class="sub">i</text></g>
<g clip-path="url(#cp2)" fill="none" stroke-linejoin="round" stroke-linecap="round">
<path d="M935.0 277.7l-.3-2.0l-.3-2.7l-.0-2.9l-.9-2.5l-1.4-2.3l-.9-2.2l-.0-2.0l.4-1.9l.7-2.1l.7-1.7l1.0-1.9l1.1-1.9l.9-1.7l.9-2.2l1.0-2.1l1.0-1.5l1.7-1.7l.4-1.6l.2-2.0l.1-2.3l.4-2.3l.5-2.1l.5-2.0l.4-2.0l.4-2.1l.4-1.9l.3-2.0l-.0-2.0l-.1-2.0l-.0-2.1l-.1-2.0l-.3-2.1l-.7-2.0l-.7-2.2l-.3-2.2l-.2-2.2l-.1-2.1l-.2-2.1l-.1-2.1l-.0-2.0l-.0-2.0l-.1-1.9l.0-2.5l.2-2.4l.3-2.3l.1-1.8l.7-1.8l.9-1.9l.3-1.4l.4-1.9l.5-2.1l.4-2.2l.3-2.2l.4-1.9l.4-2.0l.4-2.0l.3-2.0l.4-2.0l.5-1.9l.5-2.3l.2-2.4l.3-2.3l.6-1.9l.9-1.3l3.1 2.1l1.1 2.1l1.6 2.0l2.8-.3l3.1-.8l2.6 .1l2.5 .8l1.6 1.0l1.6 1.2l1.9 .9l2.0 .7l2.3 .8l2.1 .9l2.3 1.0l2.5 1.2l2.1 .6l2.5-.9l2.4-1.7l2.0-1.4l2.2-1.6l1.8-.9l2.3 .8l1.8 2.5l.7 1.7l.7 2.0l1.0 1.9l1.2 1.8l1.2 1.8l1.2 1.7l1.2 1.7l1.4 1.5l2.1 1.4l2.3 1.1l2.0 1.1l1.6 1.8l1.1 2.4l1.0 2.5l1.0 1.8l1.1 1.7l1.3 1.6l1.1 1.7l1.4 2.2l1.6 2.2l1.6 1.9l1.5 1.7l1.6 1.4l2.0 .9l2.4 .7l2.5 .8l2.2 1.0l2.8 1.1l2.4 1.2l1.9 3.1l-.6 .9l-.1 1.6l.1 2.3l.2 2.2l.3 2.0l.5 2.0l.6 1.9l.8 2.0l.5 2.0l.2 2.1l.3 2.0l.6 2.0l.6 2.0l.5 2.0l.4 2.1l.3 2.0l.6 3.0l.5 2.8l.6 1.9l.2 2.1l-.1 2.3l-.8 2.6l-1.3 2.1l-1.4 1.6l-1.4 1.6l-1.3 1.9l-.9 2.3l-1.0 2.6l-1.1 2.1l-2.2 2.0l-2.7 1.2l-2.0 .4l-2.1 .3l-1.8 .4l-2.6 1.6l-2.0 1.9l-.8 2.7" stroke="#d3f0e9" stroke-width="1.23"/>
<path d="M938.7 277.7l-.5-1.9l-.4-2.9l-.2-2.7l-.4-2.5l-.2-2.4l.2-2.2l.2-2.0l.3-1.9l.4-2.2l.9-2.3l1.1-2.4l1.0-2.3l.9-2.2l.7-2.1l.5-1.7l.4-1.9l.2-1.4l.6-1.9l.6-2.2l.3-2.3l.1-2.2l.2-2.0l.1-2.0l.0-2.0l.1-2.1l.2-1.9l.3-2.0l.1-2.0l-.3-2.0l-.2-2.0l-.1-2.1l-.1-2.2l-.3-2.2l-.4-2.2l-.2-2.2l-.4-2.1l-.5-2.0l-.4-2.1l-.1-2.0l.2-2.0l.2-1.9l.0-2.5l.2-2.4l.2-2.3l.2-1.8l.9-1.8l1.2-1.7l.3-1.7l.0-2.2l-.2-2.3l.0-2.2l.6-2.4l.9-2.5l1.0-2.1l1.2-1.3l2.3 .8l2.7 1.1l2.4-1.3l2.7-1.5l2.2-.9l2.3-1.2l2.2-.5l2.5 1.0l2.6 1.3l2.1 .6l2.2 .9l2.2 .9l2.3 .8l2.3 .9l2.2 .5l2.5-.6l2.4-1.4l2.0-1.3l2.2-1.7l1.8-1.1l2.4 .9l1.8 2.6l.7 1.7l.7 1.9l.7 2.1l.9 2.0l1.4 1.7l1.6 1.6l1.5 1.5l1.1 1.6l1.5 2.2l1.7 2.0l1.5 1.9l1.7 2.1l1.7 2.1l1.7 2.0l1.5 2.2l1.6 2.0l1.8 1.8l1.5 1.9l1.2 2.0l1.6 2.8l1.2 2.4l3.0 2.2l3.0-1.8l1.7 1.8l1.2 2.0l1.0-.2l.9 1.5l1.3 2.3l.7 1.9l.8 2.0l.9 2.0l.6 2.0l.4 2.2l.4 2.1l.6 2.0l.9 2.0l.6 2.0l.4 1.9l.4 1.9l.4 2.2l.3 2.6l.5 2.7l.6 2.5l.2 2.6l-.5 2.5l-.7 1.8l-.9 2.1l-.9 2.0l-1.0 2.1l-.8 2.2l-.8 1.9l-3.1 2.0l-2.0-.9l-2.0-.7l-2.0 1.0l-1.9 1.6l-1.1 1.8l-1.0 2.1l-1.2 2.0l-1.9 2.5l-1.3 2.4l-.6 2.7" stroke="#aadcf0" stroke-width="1.33"/>
<path d="M944.6 277.7l-.4-2.3l-.5-3.2l-.6-2.2l-.5-2.4l.1-2.5l.3-2.3l.2-2.3l.4-2.4l.5-2.3l.4-2.4l.5-2.4l.7-2.5l.7-2.5l.3-2.0l.4-1.9l.2-1.4l.3-2.0l.2-2.2l.3-2.2l.5-2.2l.3-2.0l.0-2.0l-.2-2.0l-.0-2.0l-.1-2.0l-.1-2.0l-.1-2.0l-.0-2.0l.1-2.0l-.2-2.1l-.3-2.1l-.2-2.2l-.0-2.2l-.1-2.2l-.2-2.2l-.1-2.1l-.2-2.0l-.4-2.0l-.5-2.0l-.3-1.9l.2-2.5l.2-2.5l.1-2.2l.3-1.9l1.1-1.7l1.1-1.6l.3-2.2l.4-2.4l.9-2.0l1.3-1.6l1.7-1.5l1.7-1.4l2.4-1.5l2.5-1.3l1.9-.9l2.2-.6l1.9-.4l1.9 .2l2.0 .6l2.0 .8l2.1 .5l2.3 .5l2.3 .6l2.2 1.1l2.4 .8l2.1 .2l2.4-.6l2.6-.9l2.0-.8l2.1-.9l1.8-.3l2.1 .6l2.1 1.6l1.2 1.8l.9 2.4l1.2 2.5l.9 2.0l.9 2.2l.9 2.2l1.0 1.9l1.1 2.2l1.0 2.2l1.3 2.0l1.8 1.7l1.8 1.5l1.6 1.7l1.6 1.8l1.4 2.0l1.1 2.2l1.5 2.1l1.7 1.9l1.2 1.8l.8 2.9l1.7 2.2l2.1 2.2l3.2 1.1l2.4-3.0l1.5 1.3l1.1 2.3l1.0 2.3l1.1 2.7l.9 2.0l1.1 2.0l1.1 2.0l.7 2.1l.3 2.1l.4 2.0l.5 2.0l.4 1.9l.3 2.1l.5 2.3l.5 2.4l.0 2.1l-.3 2.1l-.5 1.9l-.7 2.1l-1.0 2.2l-1.3 1.8l-2.0 1.4l-2.0 .5l-2.0-.8l-2.2-.6l-1.7 1.9l-1.0 2.7l-.9 1.9l-1.1 2.0l-1.0 2.1l-1.1 2.0l-1.4 1.9l-.9 2.0l-.3 2.5l-.3 2.4l-.4 1.7" stroke="#a9b6e6" stroke-width="1.38"/>
<path d="M947.0 277.7l-.1-1.6l-.1-2.4l-.0-2.7l-.2-2.7l.0-2.2l.1-2.6l-.1-2.2l.0-2.2l.5-2.4l.9-2.3l.7-2.4l.5-1.9l.5-2.1l.6-2.0l.4-2.0l.1-2.5l.2-2.4l.6-3.0l.2-1.7l.0-2.0l-.1-2.0l-.1-2.1l-.0-2.2l-.1-2.0l-.2-2.1l-.0-2.2l.1-2.2l.1-2.0l-.2-1.9l-.2-1.7l-.3-3.1l-.1-2.7l-.1-1.9l-.2-2.0l-.1-2.1l-.1-2.1l-.2-2.2l-.5-2.3l-.4-2.3l.0-2.2l.3-2.3l.3-2.2l.2-2.1l.3-1.5l1.0-1.6l.9-1.9l1.3-2.4l1.4-1.4l1.9-1.2l2.2-1.2l1.8-1.3l1.9-1.6l1.9-1.4l1.7-.8l2.1-.1l1.9 .6l2.0 .8l2.1 1.0l2.2 1.0l2.3 .6l2.4 .5l2.3 .7l2.0 .5l2.6-.1l2.5-.5l2.0-.5l2.0-.6l1.8-.4l2.2 .4l2.1 1.7l1.2 2.2l1.2 2.5l.9 2.1l-.6 2.4l.6 1.8l1.2 2.1l1.4 1.9l1.4 1.8l1.5 1.9l1.5 1.8l1.5 1.9l1.3 2.0l1.4 2.0l1.5 2.0l1.6 2.0l1.1 1.9l.9 3.9l1.2 1.5l1.7 1.6l1.4 1.7l1.3 1.8l1.3 1.8l1.2 1.6l1.8 2.5l2.0 2.0l2.2 .4l2.0 .2l1.7 1.2l1.4 1.8l1.0 2.4l1.0 2.6l.5 1.9l.3 2.1l.3 2.1l.5 2.3l.3 2.4l-.2 2.1l-.9 2.3l-1.0 1.5l-2.8 2.0l-3.0-2.0l-1.6 1.7l-1.4 2.6l-1.1 1.8l-1.1 2.0l-1.0 2.2l-.7 2.1l-.9 2.1l-1.0 2.0l-1.2 1.9l-1.1 1.9l-1.0 2.1l-.9 2.6l-.3 2.8l.0 2.1" stroke="#bc98d8" stroke-width="1.42"/>
<path d="M950.1 277.7l.1-1.5l-.0-2.2l-.1-2.5l.1-2.6l.0-2.6l.1-2.2l.4-2.2l.3-2.0l.2-1.9l-.1-2.0l-.0-2.0l.3-2.0l.5-2.1l.4-2.0l.2-2.0l.0-1.9l.2-2.6l.2-2.4l.2-2.9l.2-1.7l.2-2.0l.1-2.0l-.2-2.1l-.2-2.2l.1-2.0l.2-2.1l.0-2.2l-.3-2.2l-.2-2.0l-.1-1.9l.1-1.7l.3-3.2l.0-2.6l-.1-1.9l-.2-2.0l-.4-2.0l-.3-2.2l-.0-2.2l-.0-2.3l-.2-2.3l-.4-2.2l-.1-2.2l.3-2.2l.6-1.9l.8-1.8l1.3-1.9l1.9-1.5l2.1-1.6l1.8-1.5l2.1-1.6l2.1-1.4l1.7-.9l1.9-.2l2.0 .5l2.0 .9l2.0 1.0l2.3 .9l2.4 .5l2.3 .6l2.2 .7l2.1 .5l2.6-.1l2.5-.4l3.0-.6l2.8-.4l2.5 1.0l1.5 1.5l-.5 2.0l1.0 1.8l1.4 1.9l1.3 2.2l1.1 2.1l1.3 2.1l1.3 2.0l1.3 1.7l1.3 1.7l1.4 1.6l1.3 2.0l1.2 2.2l1.1 2.1l1.4 1.8l1.3 1.8l1.0 1.9l.8 2.0l.9 2.1l1.2 2.0l1.3 2.0l1.3 2.0l1.3 2.0l1.4 1.8l1.2 1.8l1.0 1.7l1.3 2.4l1.2 2.4l.8 2.3l.5 2.8l.4 2.0l.7 2.4l.4 2.4l-.1 2.1l-.9 2.2l-1.4 1.7l-1.3 2.3l-1.4 2.6l-1.1 2.1l-1.4 2.1l-1.5 1.9l-1.7 2.7l-1.1 2.5l-2.8 1.7l-2.7 2.3l.1 2.3l.4 2.7l.2 2.5l.2 2.0" stroke="#cc80c6" stroke-width="1.52"/>
<path d="M951.7 277.7l.1-1.5l.1-2.2l-.0-2.5l.0-2.6l.4-2.6l.4-2.2l.2-2.2l-.1-2.0l-.1-2.0l.1-1.9l.3-2.0l.3-2.0l.4-2.1l.4-2.1l.4-1.9l.3-1.9l.1-2.6l-.1-2.4l.2-2.9l.2-1.7l.0-2.0l-.2-2.0l-.4-2.2l-.1-2.1l.1-2.0l.2-2.1l.1-2.0l.2-2.1l.1-2.0l.1-2.0l-.1-1.9l-.2-2.7l-.1-2.5l.0-2.4l-.0-2.3l-.4-2.1l-.4-2.0l-.3-1.9l.1-2.0l.3-2.1l.3-2.0l.2-2.0l.3-1.9l.6-2.3l.7-2.1l.9-1.7l2.2-1.0l2.5-.5l1.7-1.2l1.6-1.8l1.7-1.3l2.6-.0l2.5 1.1l2.3 1.4l2.6 1.3l2.7 1.2l2.5 1.1l3.5 1.4l1.6-.9l1.9-.8l2.9 2.1l3.1 2.3l3.0-.2l1.7 3.1l1.4 1.7l1.6 2.0l1.5 2.0l1.4 1.7l1.4 1.6l1.3 1.7l1.1 1.8l1.1 1.7l1.4 1.8l1.4 1.5l1.4 1.6l1.2 1.9l1.0 1.8l1.2 2.3l1.2 2.3l1.1 2.2l1.3 2.1l1.4 2.1l1.1 1.9l1.4 2.8l1.2 2.5l1.4 2.4l1.2 2.4l.5 2.5l.2 2.6l.6 2.9l.3 2.9l-.6 2.1l-1.1 2.0l-1.6 2.3l-1.8 2.5l-1.5 2.7l-1.3 2.5l-1.8 1.4l-2.0 .9l-3.2 2.2l-.4 2.1l.1 2.4l-.3 2.5l-.5 2.6l-.4 3.0l-.2 2.5" stroke="#de5a9c" stroke-width="1.61"/>
<path d="M953.1 277.7l.1-1.5l.2-2.2l.1-2.5l-.1-2.6l-.0-2.6l.2-2.2l.4-2.2l.2-2.1l.3-1.9l.4-1.9l.3-1.9l.3-2.0l.1-2.1l.0-2.2l.2-2.0l.3-1.8l.3-2.6l-.0-2.4l.0-2.9l.2-1.7l.1-2.0l-.0-2.0l-.1-2.2l.1-2.1l.2-2.0l.2-2.1l.0-2.1l-.1-2.1l-.2-2.0l-.1-2.0l-.1-1.8l-.2-2.4l-.2-2.2l.0-2.2l.2-2.0l.2-2.1l-.1-2.0l-.2-2.0l.1-2.0l.2-2.0l.2-2.1l.2-2.1l.3-1.8l.8-2.3l1.0-2.1l1.2-1.7l1.9-1.4l2.5-.9l2.3-.3l2.7-.1l2.4 .2l2.5 .8l2.3 1.3l1.7 1.3l1.9 1.7l1.7 1.9l1.5 2.4l1.6 1.7l2.5 .2l2.4-.4l2.5 .2l2.5 .4l2.7 .3l2.3 .8l1.3 2.0l1.4 2.3l1.4 1.5l1.6 1.5l1.5 1.6l1.4 1.7l1.4 1.6l1.3 1.7l1.7 2.5l1.5 2.6l.8 1.9l.9 1.9l1.0 2.1l.8 1.8l.9 1.9l1.1 1.9l1.0 1.6l1.7 2.6l1.5 2.3l1.4 2.4l1.1 2.5l.4 2.6l.0 2.6l.2 3.0l-.1 2.8l-.9 1.9l-1.3 2.0l-1.2 2.8l-1.6 2.4l-2.1 1.1l-2.0 .8l-2.3 2.2l-.4 2.2l-.6 2.7l-.4 1.8l-.4 1.9l-.5 2.3l-.4 2.4l-.3 2.8l.2 2.6l.2 1.8" stroke="#d8584e" stroke-width="1.71"/>
<path d="M958.6 277.6l-1.3-2.1l-1.2-3.3l-.3-1.8l-.3-2.0l-.3-2.1l-.0-2.2l.1-1.9l.3-2.0l.2-2.0l.1-2.1l.3-2.1l.5-2.0l.7-2.0l.5-2.1l.4-2.0l.3-1.9l.2-2.6l-.2-2.4l-.4-2.9l-.1-1.7l.1-2.0l.3-2.0l.2-2.2l-.0-2.1l.1-2.0l.1-2.1l.1-2.1l-.1-2.1l-.1-2.1l.0-1.9l.2-1.8l.1-2.9l-.1-2.5l-.2-2.4l-.0-2.1l-.0-2.0l-.0-2.1l.1-2.0l.6-2.5l1.0-2.2l1.1-2.1l1.1-1.9l1.3-1.6l1.5-1.5l1.6-1.4l1.7-1.3l1.6-1.0l2.0-1.0l2.0 .1l1.5 1.1l1.7 1.6l1.7 1.6l1.7 2.4l1.3 2.7l1.0 2.0l.9 2.1l1.1 1.6l2.3 1.0l2.6-.2l2.6-.6l2.4-.3l2.1 .7l2.0 1.3l1.4 1.2l1.4 1.6l1.2 1.7l1.3 1.8l1.4 1.6l1.4 1.5l2.1 1.8l1.8 2.2l1.0 1.9l.9 2.2l.9 2.1l1.3 2.7l1.8 2.3l1.8 1.8l1.6 2.0l1.1 2.5l.8 2.6l.5 2.3l-.1 2.8l-.4 2.0l-.3 2.5l-.3 2.4l-.5 1.9l-1.2 2.9l-3.1 1.9l-2.0 3.2l-.5 2.3l-.1 2.8l-.1 2.3l-.3 2.4l-.6 2.3l-.5 2.1l-.4 1.9l-.3 2.0l-.4 2.7l-.2 2.9l.1 2.0" stroke="#b97a26" stroke-width="1.76"/>
<path d="M960.5 277.7l-.2-2.3l-.7-3.3l-.5-1.7l-.3-2.0l-.3-2.1l-.3-2.2l.0-1.9l.2-2.0l.2-2.0l-.1-2.1l-.1-2.1l.3-2.0l.5-2.1l.5-2.0l.4-2.0l.3-1.9l.3-2.6l-.2-2.4l-.2-2.9l.1-1.7l.2-2.0l-.0-2.0l-.2-2.2l-.0-2.1l-.0-2.0l-.1-2.1l-.1-2.1l.1-2.1l.4-2.1l.2-1.9l.0-1.8l.0-2.9l.3-2.4l.2-2.5l.2-2.1l.3-2.1l.4-2.0l.2-1.9l.1-2.3l.5-2.1l1.0-1.8l2.1-2.3l2.2-1.6l3.0-.7l2.2 .8l2.5 1.4l1.3 1.7l1.1 2.1l1.4 2.0l1.8 1.9l1.9 1.9l1.9 1.3l2.4 .7l2.2 .2l2.7-.2l2.4-.4l2.1 .9l1.9 1.6l1.3 1.4l1.4 1.6l1.3 1.5l1.9 2.4l2.0 2.1l1.9 1.6l1.6 2.1l.9 1.9l1.0 2.1l1.0 2.1l.8 2.2l.9 2.1l1.1 1.8l1.5 2.0l1.0 2.1l.7 2.5l.6 2.5l-.2 1.9l-.7 2.0l-1.2 2.5l-1.3 2.6l-1.1 2.3l-.8 2.5l-.4 1.9l-.5 2.1l-.5 2.1l-.4 2.2l-.3 2.4l-.6 2.4l-.6 2.2l-.3 2.3l.1 2.5l-.1 2.3l-.3 2.5l-.2 2.3l-.2 1.5" stroke="#75883a" stroke-width="1.80"/>
<path d="M962.3 277.7l-.1-1.5l-.1-2.2l-.1-2.5l-.1-2.6l-.4-2.6l-.2-2.2l.1-2.2l.2-2.1l-.1-1.9l-.1-1.9l-.1-1.9l-.0-2.1l-.0-2.1l-.1-2.1l.1-2.0l.3-1.8l.6-2.3l.2-1.9l.1-2.6l.0-1.9l.2-2.1l.1-2.3l.0-2.3l.1-2.3l.2-2.2l-.0-2.2l-.4-2.1l-.4-2.1l-.1-2.1l.0-1.9l.1-1.7l.3-2.6l.6-2.1l.6-2.1l.4-2.0l.0-2.2l.2-2.1l.5-1.8l1.3-2.5l1.3-1.9l2.9-1.6l2.2 1.4l2.7 1.8l1.7 1.0l1.6 1.3l1.5 1.5l1.6 1.9l1.8 1.9l1.8 1.4l2.5 .1l2.4-.7l2.5 .2l2.4 .9l2.0 1.7l2.1 1.7l2.2 1.2l2.0 1.4l2.1 1.3l2.0 1.7l1.0 2.0l.7 2.2l.8 2.2l.9 1.9l.8 2.0l.5 2.0l.4 2.0l.4 2.0l.3 2.0l.0 2.0l-.0 2.0l.0 2.1l.2 2.2l.0 2.4l-.4 2.2l-.5 2.0l-.5 2.0l-.4 2.0l-.5 2.3l-.4 2.3l-.1 2.5l-.2 2.3l-.4 2.4l-.5 2.3l-.3 2.4l-.1 2.4l-.2 2.3l-.2 2.4l-.0 2.4l-.1 1.7" stroke="#2f8f4c" stroke-width="1.99"/>
<path d="M964.5 277.7l-.2-1.5l-.2-2.2l-.1-2.5l-.2-2.6l-.3-2.6l-.0-2.2l-.1-2.2l-.2-2.1l-.2-1.9l-.2-1.9l.2-2.0l.3-2.0l.4-2.1l.4-2.1l.3-2.0l.3-1.8l.2-2.3l.0-1.9l-.1-2.7l-.0-1.8l.2-2.1l.3-2.3l-.0-2.3l-.1-2.3l-.0-2.2l-.0-2.2l-.1-2.2l-.1-2.2l.0-2.1l.2-1.8l.1-1.6l.1-2.7l.1-2.1l.1-2.0l.2-2.2l.4-1.9l.9-2.2l1.1-1.5l2.2-.9l2.1 1.4l2.6 1.7l1.7 1.2l1.7 1.4l1.5 1.6l1.6 1.7l1.9 1.7l1.8 1.2l2.5 .4l2.4-.4l2.1-.7l2.1-.2l1.6 1.5l1.3 2.0l1.3 2.2l1.6 1.9l2.0 1.1l2.0 1.0l1.6 1.3l1.4 1.6l1.1 2.3l.8 2.8l.6 1.9l.7 2.0l.7 2.0l.4 2.0l.0 2.0l-.0 2.1l-.2 2.2l-.4 2.3l-.4 2.3l-.4 2.0l-.2 1.9l-.1 2.1l-.2 2.3l-.5 2.4l-.3 2.4l-.3 2.3l-.2 2.4l-.4 2.3l-.3 2.4l-.3 2.4l-.3 2.3l-.6 2.4l-.5 2.4l-.1 1.7" stroke="#0f7a43" stroke-width="2.09"/>
<path d="M966.6 277.7l-.1-1.5l.0-2.1l-.0-2.6l-.5-2.6l-.2-2.5l-.0-2.3l-.1-2.2l-.0-2.1l.1-1.9l.1-1.9l-.1-2.0l-.3-2.0l-.3-2.1l-.1-2.1l.1-2.0l.1-1.8l.5-2.5l.8-2.1l.7-2.3l.3-2.0l.4-2.1l.7-2.0l.7-1.9l.8-2.4l.7-2.3l.9-2.2l.6-2.7l.6-2.8l1.4-1.7l2.3-.2l2.7 .4l2.3 .8l1.3 1.9l.8 2.0l2.5 1.8l1.7-.0l2.2-.0l2.0 .2l1.9 .3l3.0 2.0l1.5 1.4l1.6 1.5l1.6 1.9l1.2 2.3l1.2 2.4l1.2 2.4l.8 2.3l.4 2.8l.1 2.0l-.2 2.3l-.4 2.4l-.2 2.1l-.0 2.5l-.3 2.3l-.4 2.3l-.4 2.3l-.4 2.3l-.5 2.4l-.3 2.3l-.1 2.4l.1 2.4l-.3 2.4l-.3 2.4l-.1 1.7" stroke="#0b5a4e" stroke-width="2.18"/>
<path d="M969.0 277.7l.0-1.5l.1-2.2l.0-2.5l-.1-2.6l-.2-2.6l-.3-2.2l-.3-2.2l-.1-2.1l.2-1.9l.1-1.9l-.1-1.9l-.1-2.2l.3-2.2l.4-2.1l.4-2.0l.3-1.6l1.2-3.7l.4-2.0l.3-2.2l.6-2.1l1.7-2.7l1.6-2.2l2.7-1.6l3.0 .6l2.0 2.6l3.0 1.7l2.2-.3l1.9-.8l3.2 .5l1.6 1.4l1.4 1.8l1.0 2.0l.8 2.2l.4 2.3l.5 2.5l.4 1.9l.4 2.0l.1 2.2l.3 2.3l.7 2.3l.6 2.4l.1 2.3l-.1 2.4l-.2 2.3l-.4 2.4l-.4 2.3l-.1 2.3l.1 2.5l-.2 2.4l-.3 1.7" stroke="#0a3d55" stroke-width="2.18"/>
<path d="M971.4 277.7l.2-1.5l.1-2.2l-.2-2.5l-.5-2.6l-.3-2.6l-.1-2.2l-.0-2.2l-.0-2.1l.1-1.9l.3-1.9l.3-1.9l.1-2.2l-.1-2.3l.0-2.3l.3-1.9l.3-1.4l1.5-.8l3.0-2.7l1.7-.9l3.0 1.1l3.0 .4l3.1-1.8l2.9-.2l3.0 1.2l.7 1.4l.7 2.1l.5 2.2l.5 1.9l.7 2.1l.5 2.0l.3 2.1l.4 2.3l.6 2.4l.7 2.3l.3 2.4l-.0 2.4l-.1 2.2l-.1 2.2l-.3 2.1l-.3 1.8l-.3 3.5" stroke="#0a1f3c" stroke-width="2.18"/>
<path d="M975.8 277.7l-.1-1.9l.0-2.6l-.0-1.9l-.2-2.1l.1-2.1l.6-2.1l.6-2.0l.7-1.9l1.3-2.7l1.5-2.2l2.8-2.7l3.1-.8l2.0 .1l1.9 .4l1.9 2.0l1.0 2.2l1.4 2.6l.6 2.0l.3 2.0l.2 2.1l.0 2.1l-.1 2.0l-.3 2.0l-.3 3.1l-.0 2.4" stroke="#0c0c14" stroke-width="2.18"/>
<path d="M980.0 277.7l.4-3.5l.2-2.0l.2-2.0l.4-2.2l.9-1.9l3.1-2.3l3.0 1.3l1.4 1.7l.9 2.3l.3 2.6l-.0 2.5l-.3 3.5" stroke="#000000" stroke-width="2.18"/>
<path d="M877.5 133.3l.3 1.8l.8 2.6l1.0 2.4l1.2 1.7l1.7 1.6l1.6 1.7l1.4 1.6l1.4 2.0l1.2 1.8l.5 2.4l-.3 1.7l-.8 1.9l-.9 2.1l-.6 2.2l-.6 2.3l-.8 2.0l-1.3 2.1l-1.1 2.0l-.8 2.0l-.6 1.9l-.7 2.8l-.6 2.4l-.3 1.7" stroke="#d3f0e9" stroke-width="1.23"/>
</g>
<path d="M985.3 15.8V277.0" stroke="#333" stroke-width="0.7" stroke-dasharray="1.4 0.9" fill="none"/>
<path d="M949.5 277.0V224.8H1021.0V277.0" stroke="#111" stroke-width="1.1" fill="none"/>
<path d="M852.3 130.0L949.5 277.0M966.3 25.4L1021.0 224.8" stroke="#111" stroke-width="1.1" fill="none"/>
<g clip-path="url(#cp2)"><path d="M1016.8 25.6h3.3v3.3h-3.3zM1016.8 29.3h3.3v3.3h-3.3zM1016.8 33.1h3.3v3.3h-3.3zM1016.8 36.9h3.3v3.3h-3.3zM1016.8 40.6h3.3v3.3h-3.3zM1017.2 44.4h3.3v3.3h-3.3zM1018.5 48.2h3.3v3.3h-3.3zM1019.2 51.9h3.3v3.3h-3.3zM1019.8 55.7h3.3v3.3h-3.3zM1020.2 59.5h3.3v3.3h-3.3zM1020.5 63.3h3.3v3.3h-3.3zM1020.8 67.0h3.3v3.3h-3.3zM1021.0 70.8h3.3v3.3h-3.3zM1021.2 74.6h3.3v3.3h-3.3zM891.5 131.0h3.3v3.3h-3.3zM890.2 135.3h3.3v3.3h-3.3zM907.5 134.9h3.3v3.3h-3.3zM877.1 139.3h3.3v3.3h-3.3zM878.5 142.4h3.3v3.3h-3.3zM879.6 145.7h3.3v3.3h-3.3zM880.6 149.2h3.3v3.3h-3.3zM881.0 152.4h3.3v3.3h-3.3zM964.6 155.2h3.3v3.3h-3.3zM965.1 159.0h3.3v3.3h-3.3zM969.6 162.7h3.3v3.3h-3.3zM969.1 166.1h3.3v3.3h-3.3zM968.4 169.4h3.3v3.3h-3.3zM968.1 172.8h3.3v3.3h-3.3zM967.9 176.1h3.3v3.3h-3.3zM967.9 179.5h3.3v3.3h-3.3zM967.9 182.8h3.3v3.3h-3.3zM967.9 186.2h3.3v3.3h-3.3zM968.0 190.8h3.3v3.3h-3.3zM968.0 194.2h3.3v3.3h-3.3zM968.0 197.5h3.3v3.3h-3.3zM968.0 200.8h3.3v3.3h-3.3zM976.3 205.0h3.3v3.3h-3.3zM976.3 207.9h3.3v3.3h-3.3zM976.3 211.9h3.3v3.3h-3.3zM976.3 215.4h3.3v3.3h-3.3zM974.4 219.4h3.3v3.3h-3.3zM974.4 222.9h3.3v3.3h-3.3zM974.4 226.5h3.3v3.3h-3.3zM974.4 229.5h3.3v3.3h-3.3zM974.4 232.5h3.3v3.3h-3.3zM974.4 235.5h3.3v3.3h-3.3zM987.5 239.0h3.3v3.3h-3.3zM987.5 241.6h3.3v3.3h-3.3zM987.5 243.4h3.3v3.3h-3.3zM987.5 246.4h3.3v3.3h-3.3zM987.5 249.4h3.3v3.3h-3.3zM985.5 254.4h3.3v3.3h-3.3zM985.3 258.4h3.3v3.3h-3.3zM983.5 262.5h3.3v3.3h-3.3zM983.5 265.5h3.3v3.3h-3.3zM983.5 268.5h3.3v3.3h-3.3zM983.5 271.5h3.3v3.3h-3.3z" fill="#fff" stroke="#000" stroke-width="0.95"/></g>
<g clip-path="url(#cp2)"><path d="M960.7 146.8L986.2 277.0" stroke="#4c4c4c" stroke-width="2.5" fill="none"/></g>
<rect x="852.3" y="25.4" width="114.0" height="104.6" fill="#fff"/>
<g clip-path="url(#ci2)" fill="none" stroke-linejoin="round" stroke-linecap="round">
<path d="M855.9 25.2l-.1 1.4l-.2 2.1l-.0 2.4l-.2 2.4l-.4 2.3l-.3 2.1l.1 2.2l-.0 2.1l-.2 2.1l-.2 2.0l-.1 2.3l-.2 2.0l-.3 2.1l-.0 2.3l.2 2.0l.1 2.1l-.2 2.2l-.3 2.2l-.1 2.0l-.5 2.7l-.5 2.7l-.2 2.5l-.3 1.6" stroke="#bc98d8" stroke-width="0.96"/>
<path d="M859.8 25.3l-.2 1.4l-.4 2.0l-.5 2.3l-.3 2.5l.1 2.3l-.0 2.1l-.2 2.2l-.2 2.1l-.2 2.1l-.2 2.0l-.2 2.1l-.2 1.7l-.2 2.0l.0 2.9l.0 1.7l-.2 1.9l-.3 2.2l-.3 2.2l-.1 2.4l-.1 2.3l-.2 2.2l.1 2.1l.1 2.0l.0 2.5l-.3 2.3l-.4 2.2l-.3 2.0l-.3 1.9l-.4 1.7l-1.1 3.0l-.9 2.6l-.6 1.8" stroke="#cc80c6" stroke-width="1.02"/>
<path d="M862.6 25.3l-.4 1.4l-.4 2.0l-.3 2.3l-.3 2.5l-.2 2.3l-.1 2.1l-.0 2.2l-.2 2.1l-.3 2.1l-.3 2.0l-.1 2.1l.0 1.7l.1 2.1l-.4 2.8l-.4 1.7l-.3 1.9l-.2 2.2l-.0 2.2l.0 2.4l-.0 2.3l-.1 2.3l-.2 2.1l-.2 1.9l-.5 2.5l-.4 2.3l-.1 2.2l-.0 2.0l-.0 1.9l-.2 1.7l-.9 2.6l-1.0 1.9l-.6 2.1l-.2 2.3l-.2 2.3l-.2 2.7l-.1 1.9l-.1 2.1l-.0 2.2l.0 2.2l.2 2.2l.5 2.1l.7 2.2l.5 2.2l.2 2.1l.1 1.9l.4 2.5l.5 1.9l.6 1.7l1.0 3.4" stroke="#de5a9c" stroke-width="1.09"/>
<path d="M864.6 25.3l-.2 1.4l-.3 2.0l-.5 2.3l-.2 2.5l.0 2.3l-.1 2.1l-.2 2.2l-.3 2.1l-.2 2.1l-.3 2.0l-.3 2.1l-.3 1.7l-.3 2.0l.1 2.9l.1 1.7l.1 2.0l-.1 2.1l-.3 2.3l-.3 2.3l-.3 2.3l-.2 2.3l-.3 2.0l-.3 1.9l-.1 2.6l-.1 2.5l-.2 2.2l-.4 2.1l-.3 1.7l-.1 1.5l-.9 3.6l-.1 1.6l-.2 2.0l-.4 2.3l-.2 2.3l-.1 2.2l-.0 2.1l.1 2.2l.4 2.1l.5 2.0l.6 2.1l.4 2.2l.1 2.2l.0 2.3l.3 2.1l.3 1.8l.6 2.4l.5 2.0l.5 1.7l1.1 3.3" stroke="#d8584e" stroke-width="1.15"/>
<path d="M867.0 25.2l-.1 1.5l-.2 2.0l-.3 2.4l-.3 2.5l-.3 2.2l-.5 2.1l-.6 2.2l-.4 2.1l-.0 2.1l-.1 2.0l-.1 2.1l-.0 1.9l.0 2.1l-.1 2.6l-.3 1.9l-.3 2.1l-.1 2.3l-.0 2.4l-.4 2.4l-.4 2.4l-.3 2.3l-.4 2.3l-.5 2.5l-.1 2.6l.1 2.5l-.0 2.3l-.2 2.0l-.2 1.6l.0 3.4l-.2 1.7l-.4 2.0l-.2 2.3l.1 2.3l-.0 2.2l-.1 2.2l.1 2.1l.2 2.1l.4 2.1l.3 2.1l.7 2.4l1.0 2.4l.7 2.3l.5 2.3l.8 2.8l1.0 2.4l.9 2.1l1.7 3.3" stroke="#b97a26" stroke-width="1.18"/>
<path d="M870.0 25.3l-.4 1.4l-.4 2.0l-.5 2.4l-.5 2.4l-.3 2.3l-.2 2.1l-.2 2.2l-.4 2.1l-.3 2.1l-.1 2.0l.2 2.1l.2 1.9l-.1 2.1l-.4 2.6l-.2 1.9l-.1 2.1l-.1 2.3l-.1 2.4l-.3 2.4l-.3 2.4l-.3 2.3l-.3 2.3l-.2 2.5l.2 2.6l-.0 2.5l-.3 2.3l-.3 2.0l-.1 1.6l.4 3.4l.1 1.7l-.2 2.0l-.4 2.3l-.3 2.3l-.0 2.2l.1 2.2l.2 2.1l.4 2.1l.4 2.1l.4 2.1l.4 2.5l.7 2.5l1.0 2.2l1.0 2.1l.9 2.7l.6 2.5l.8 2.1l1.5 3.3" stroke="#75883a" stroke-width="1.22"/>
<path d="M872.5 25.3l-.4 1.4l-.5 2.0l-.4 2.3l-.5 2.5l-.4 2.2l-.0 2.2l.1 2.2l-.1 2.2l-.3 2.0l-.2 2.0l-.2 2.2l-.1 1.8l-.2 2.1l-.2 2.6l.0 1.9l-.1 2.1l-.3 2.3l-.4 2.3l-.2 2.4l-.2 2.4l-.2 2.4l.0 2.3l.3 2.6l-.1 2.5l-.2 2.5l-.2 2.3l-.0 2.0l-.2 1.6l.1 3.4l.1 1.7l.1 2.0l-.1 2.3l-.2 2.3l-.0 2.2l.2 2.2l.2 2.1l.3 2.1l.5 2.1l.8 2.0l.6 2.1l.5 2.3l.5 2.2l.6 2.1l.3 1.8l.4 2.6l.5 1.9l.6 1.7l.9 3.3" stroke="#2f8f4c" stroke-width="1.34"/>
<path d="M877.5 25.3l-.7 1.5l-.8 2.1l-1.0 2.4l-1.0 2.3l-.5 2.3l.0 2.5l-.1 2.5l-.3 2.3l-.3 2.3l-.3 2.2l-.3 2.1l-.3 1.7l.0 3.5l.0 1.6l-.2 2.0l-.3 2.3l-.1 2.5l-.1 2.5l-.2 2.5l-.1 2.4l-.1 2.4l-.5 2.5l-.6 2.5l-.1 2.4l.1 2.3l-.1 2.1l.0 1.6l.3 3.4l-.1 1.7l-.2 2.0l-.1 2.3l.2 2.3l.1 2.2l.0 2.1l.1 2.2l.3 2.1l.4 2.1l.3 2.1l.7 2.1l.8 2.2l.5 2.2l.2 2.1l.2 1.9l.6 2.4l.4 2.0l.4 1.7l.9 3.3" stroke="#0f7a43" stroke-width="1.41"/>
<path d="M886.1 25.2l-.4 1.4l-.5 2.1l-.6 2.3l-.6 2.4l-.3 2.3l-.2 2.2l-.2 2.2l-.4 2.2l-.6 2.0l-.5 2.0l-.5 2.2l-.5 1.8l-.7 2.1l-.5 2.6l-.3 1.9l-.2 2.1l-.4 2.3l-.6 2.3l-.4 2.4l-.2 2.4l-.0 2.4l-.1 2.4l-.2 2.5l-.1 2.5l-.2 2.5l-.4 2.3l-.5 2.0l-.3 1.5l-.4 3.5l.0 1.6l-.0 2.1l-.1 2.3l-.0 2.3l.1 2.2l.2 2.1l.1 2.1l.2 2.2l.5 2.0l.5 2.1l.3 2.2l.2 2.2l-.0 2.3l.1 2.0l.1 1.9l.0 2.4l.1 2.0l.1 1.7l.6 3.3" stroke="#0b5a4e" stroke-width="1.47"/>
<path d="M882.9 131.1l-.2-3.4l-.2-1.7l-.2-2.0l-.1-2.4l-.1-1.9l-.2-2.0l-.4-2.2l-.1-2.3l.0-2.2l-.0-2.1l-.4-2.1l-.3-2.1l-.2-2.1l-.1-2.1l.1-2.2l.4-2.1l.8-2.0l.6-2.1l.3-2.1l-.1-2.4l-.1-2.3l-.2-2.4l-.2-2.7l.2-1.9l.3-2.0l.2-2.2l.0-2.2l.2-2.1l.4-2.2l.3-2.1l.3-2.3l.4-2.3l.3-2.2l.1-2.0l-.0-1.8l.8-3.1l1.3-2.4l.6-1.9l.7-2.2l.8-2.1l.6-2.0l.4-2.5l.5-2.2l.7-1.8l1.0-2.2l1.1-1.6l3.3-.5l3.1 1.2l1.7 1.7l1.5 2.5l1.3 2.7l1.6 2.2l2.3 1.7l3.1-1.5l1.9-1.5l2.3-1.0l2.1 .0l2.1 .8l1.7 .7l1.8 1.1l1.7 1.3l1.6 1.4l1.6 1.7l1.3 1.9l1.0 2.3l1.1 2.3l1.1 1.7l1.6 1.3l.4 1.7l.4 2.3l.5 2.4l.3 2.0l.2 2.2l.5 2.1l.8 2.1l.4 2.1l.2 2.1l.1 2.1l.1 2.1l-.1 2.3l-.2 2.3l.1 2.1l.2 1.8l-.2 3.4l-.2 1.6l-.2 2.1l-.2 2.3l-.3 2.3l-.3 2.2l-.2 2.1l-.2 2.2l-.5 2.0l-.6 2.1l-.5 2.1l-.2 2.2l-.3 2.2l-.2 2.3l.0 2.1l-.1 1.8l-.5 2.5l-.6 1.9l-.5 1.6l-.6 3.4" stroke="#0a3d55" stroke-width="1.47"/>
<path d="M886.6 131.1l-.1-3.4l-.2-1.7l-.4-2.0l-.4-2.4l-.0-1.8l.2-2.1l.1-2.2l-.1-2.3l-.1-2.2l-.1-2.1l-.1-2.1l-.0-2.1l-.0-2.1l.1-2.1l.2-2.1l-.1-2.2l-.1-2.2l.3-2.1l.5-1.9l.6-2.2l.2-2.1l.2-2.1l.2-2.3l.3-2.0l.3-2.2l.2-2.2l.3-2.1l.1-2.0l.1-2.4l.1-2.3l.4-2.0l.7-1.8l1.2-2.7l1.0-2.0l3.1-2.2l2.1 .2l2.1 .7l2.1 1.0l2.1 1.1l1.9 1.3l1.9 .6l1.7-1.2l1.9-1.6l2.1-1.4l2.2-1.1l2.7-.5l2.7 .7l2.0 1.9l1.8 2.3l1.2 1.5l1.1 1.8l1.0 1.8l.8 2.0l.8 2.0l.6 2.3l.4 2.0l.5 2.1l.7 2.1l.5 2.1l.1 2.3l-.1 2.4l.2 2.2l.3 1.6l.6 2.4l-.1 1.6l-.2 2.0l-.2 2.3l-.1 2.4l-.1 2.2l-.1 2.1l.1 2.2l-.0 2.1l-.4 2.1l-.5 2.0l-.3 2.2l.0 2.3l-.1 2.2l-.4 2.1l-.4 1.7l-.6 2.5l-.3 1.9l-.3 1.7l-.3 3.4" stroke="#0a1f3c" stroke-width="1.47"/>
<path d="M894.4 131.1l-.4-3.4l-.1-1.8l-.1-2.0l-.1-2.3l.1-2.0l-.0-2.0l-.0-2.2l.0-2.3l.4-2.3l.6-2.4l.5-2.4l.3-2.3l.2-2.7l.6-2.5l1.0-2.2l.8-2.3l.7-2.3l.6-1.8l1.1-2.3l2.2-3.1l2.0-.4l2.3-.2l2.2-.8l2.0-1.1l3.0-2.0l3.3 1.1l1.3 2.1l1.2 2.3l1.2 2.5l.7 2.7l.5 2.7l.5 3.0l.4 2.2l.5 2.4l.3 2.7l.2 2.2l-.0 2.5l-.3 2.4l-.3 2.3l-.1 2.3l-.1 2.2l-.2 2.1l-.4 1.9l-.6 2.3l-.4 2.0l-.1 1.7l-.1 3.4" stroke="#0c0c14" stroke-width="1.47"/>
<path d="M901.5 131.0l-.5-3.3l-.4-2.3l-.3-2.8l.1-2.0l.5-2.1l.5-2.2l.3-2.1l.4-2.2l.7-2.0l1.0-1.9l1.2-1.8l1.0-1.5l3.1-2.0l3.1 1.0l1.8 1.6l1.8 2.3l.7 2.0l.3 2.2l.2 2.3l.2 2.4l-.0 2.6l-.1 2.4l-.0 2.2l.0 2.1l-.0 1.8l-.4 3.3" stroke="#000000" stroke-width="1.47"/>
<path d="M929.2 25.2l.7 2.0l1.2 2.3l1.6 1.5l1.8 1.4l2.1 1.5l2.0 1.8l1.7 2.0l1.3 2.3l.5 2.0l.3 2.1l.5 2.3l.8 2.5l.5 2.7l.2 2.0l.5 1.4l-.1 1.6l-.1 2.2l-.1 2.4l-.1 2.2l-.2 2.1l-.1 2.1l-.1 2.1l-.2 2.1l-.4 2.1l-.4 2.1l-.1 2.1l.0 2.1l.0 2.3l-.2 2.4l-.2 2.2l-.2 1.6l-.5 1.3l-.2 1.5l-.4 2.1l-.4 2.3l-.4 2.4l-.2 2.3l-.3 2.1l-.6 2.1l-.7 2.0l-.6 2.1l-.5 2.1l-.3 2.2l-.3 2.2l-.3 2.3l-.3 2.1l-.2 1.8l-.4 2.5l-.5 1.9l-.4 1.7l-.6 3.3" stroke="#0b5a4e" stroke-width="1.47"/>
<path d="M947.6 25.3l.0 1.5l.1 2.1l-.1 2.4l-.0 2.4l.2 2.3l.7 2.4l.5 2.4l.3 2.3l.4 2.3l.4 2.3l.3 2.1l.1 1.8l1.1 3.4l.1 1.7l-.1 2.1l-.3 2.3l-.4 2.3l-.2 2.3l-.3 2.4l-.4 2.4l-.2 2.4l-.2 2.5l-.4 2.4l-.8 2.3l-.7 2.2l-.4 2.6l-.5 2.4l-.6 2.7l-.2 1.9l-.2 2.1l-.4 2.2l-.6 2.2l-.5 2.1l-.3 2.2l-.5 2.1l-.6 2.1l-.7 2.1l-.5 2.0l-.6 2.2l-.7 2.2l-.5 2.2l-.2 2.1l-.0 1.9l-.3 2.5l-.3 1.9l-.3 1.7l-.6 3.4" stroke="#0f7a43" stroke-width="1.41"/>
<path d="M951.1 25.3l.2 1.4l.2 2.0l.3 2.4l.2 2.4l.4 2.3l.4 2.1l.4 2.1l.2 2.2l-.0 2.1l.0 2.1l.4 2.3l.6 2.2l.3 2.1l.1 2.0l-.1 2.1l-.1 1.9l-.3 2.3l-.2 1.9l-.4 2.0l-.3 2.3l-.4 2.2l-.5 2.2l-.6 2.1l-.6 2.1l-.4 2.2l-.1 2.1l-.1 2.0l-.6 2.6l-.7 2.3l-.5 2.7l-.3 1.9l-.2 2.1l-.3 2.2l-.4 2.2l-.4 2.2l-.6 2.1l-.8 2.0l-.7 2.1l-.6 2.1l-.3 2.1l-.5 2.2l-.7 2.2l-.8 2.2l-.5 2.1l-.2 1.8l-.2 2.6l-.3 1.9l-.2 1.7l-.5 3.4" stroke="#2f8f4c" stroke-width="1.34"/>
<path d="M955.6 25.3l.2 1.7l.3 2.4l.5 2.3l1.5 2.6l1.8 2.3l1.1 1.7l1.0 1.9l.7 1.9l.5 2.0l.5 2.2l.2 2.1l-.2 2.3l-.5 2.3l-.2 1.5l-1.0 .3l-1.1 2.0l-1.2 2.5l-1.2 2.5l-1.3 2.8l-.8 2.1l-.8 2.5l-.5 2.6l-.2 2.1l-.3 2.1l-.5 2.1l-.5 2.1l-.3 2.3l-.1 2.4l-.2 2.2l-.4 1.7l-1.2 1.3l-.5 1.4l-.4 2.0l-.4 2.3l-.4 2.4l-.3 2.3l-.3 2.1l-.3 2.2l-.6 2.1l-.7 2.0l-.6 2.1l-.3 2.3l-.4 2.3l-.8 2.1l-.8 2.0l-.7 1.8l-.4 2.5l-.1 2.0l-.1 1.7l-.4 3.4" stroke="#75883a" stroke-width="1.22"/>
<path d="M961.7 25.3C962.0 26.1 963.0 29.0 963.8 30.5C964.6 32.0 966.0 33.6 966.4 34.2" stroke="#b97a26" stroke-width="1.18"/>
<path d="M966.3 70.1l-1.5 1.6l-1.9 2.0l-2.3 .6l-2.0 .7l-1.0 2.3l-.4 3.0l-.5 2.1l-.7 2.3l-.6 1.9l-1.7 3.4l-.5 1.6l-.5 2.0l-.1 2.3l-.0 2.4l-.3 2.2l-.5 2.1l-.5 2.1l-.5 2.2l-.6 2.1l-.6 2.1l-.4 2.2l-.4 2.3l-.5 2.2l-.8 2.0l-.7 1.7l-.6 2.5l-.3 2.0l-.2 1.6l-.5 3.4" stroke="#b97a26" stroke-width="1.18"/>
<path d="M966.4 85.9l-2.7-.0l-3.0 .2l-2.9 2.4l-1.2 1.3l-.5 1.6l-.2 2.1l-.4 2.4l-.6 2.4l-.5 2.2l-.4 2.2l-.5 2.0l-.5 2.1l-.3 2.2l-.3 2.1l-.5 2.1l-.7 2.2l-.3 2.2l-.2 2.1l-.2 1.8l-.2 2.5l-.1 2.1l-.1 1.6l-.9 3.4" stroke="#d8584e" stroke-width="1.15"/>
<path d="M966.5 94.8l-2.7 .2l-3.2 .7l-1.8 2.1l-1.3 2.7l-1.0 2.2l-.6 2.5l-.5 2.7l-.6 1.9l-.5 2.0l-.3 2.1l-.1 2.4l-.1 2.2l-.2 2.5l-.3 2.6l-.2 2.3l-.4 1.8l-.7 3.3" stroke="#de5a9c" stroke-width="1.09"/>
<path d="M966.4 104.5l-2.1 .5l-2.5 1.0l-1.7 1.7l-1.5 2.3l-.6 1.9l-.6 2.2l-.2 2.2l.1 2.2l.6 2.1l.7 2.0l.7 2.7l.5 2.5l1.4 3.2" stroke="#cc80c6" stroke-width="1.02"/>
<path d="M966.4 118.9l-1.5 1.5l-1.5 2.1l.2 2.3l.8 2.0l2.3 1.9" stroke="#bc98d8" stroke-width="0.96"/>
</g>
<path d="M909.3 25.4V130.0" stroke="#333" stroke-width="0.7" stroke-dasharray="1.4 0.9" fill="none"/>
<path d="M892.7 28.1h3.2v3.2h-3.2zM892.7 34.9h3.2v3.2h-3.2zM892.7 41.8h3.2v3.2h-3.2zM893.0 48.6h3.2v3.2h-3.2zM913.8 55.0h3.2v3.2h-3.2zM913.8 61.8h3.2v3.2h-3.2zM913.6 68.4h3.2v3.2h-3.2zM913.6 75.3h3.2v3.2h-3.2zM912.7 81.8h3.2v3.2h-3.2zM911.9 88.1h3.2v3.2h-3.2zM910.6 95.2h3.2v3.2h-3.2zM907.5 101.6h3.2v3.2h-3.2zM907.5 108.2h3.2v3.2h-3.2zM907.5 114.7h3.2v3.2h-3.2zM907.7 121.5h3.2v3.2h-3.2zM893.4 53.4h3.2v3.2h-3.2z" fill="#fff" stroke="#000" stroke-width="0.95"/>
<g clip-path="url(#ci2)"><path d="M893.6 25.4L910.2 130.0" stroke="#484848" stroke-width="1.4" fill="none"/></g>
<rect x="852.3" y="25.4" width="114.0" height="104.6" fill="none" stroke="#000" stroke-width="2.5"/>
<rect x="842.3" y="15.8" width="286.0" height="261.2" fill="none" stroke="#000" stroke-width="2.2"/>
<path d="M834.0 277.0H842.3M837.6 263.9H842.3M837.6 250.9H842.3M837.6 237.8H842.3M834.0 224.8H842.3M837.6 211.7H842.3M837.6 198.6H842.3M837.6 185.6H842.3M834.0 172.5H842.3M837.6 159.5H842.3M837.6 146.4H842.3M837.6 133.3H842.3M834.0 120.3H842.3M837.6 107.2H842.3M837.6 94.2H842.3M837.6 81.1H842.3M834.0 68.0H842.3M837.6 55.0H842.3M837.6 41.9H842.3M837.6 28.9H842.3M834.0 15.8H842.3M842.3 277.0V285.3M856.6 277.0V281.7M870.9 277.0V281.7M885.2 277.0V281.7M899.5 277.0V281.7M913.8 277.0V285.3M928.1 277.0V281.7M942.4 277.0V281.7M956.7 277.0V281.7M971.0 277.0V281.7M985.3 277.0V285.3M999.6 277.0V281.7M1013.9 277.0V281.7M1028.2 277.0V281.7M1042.5 277.0V281.7M1056.8 277.0V285.3M1071.1 277.0V281.7M1085.4 277.0V281.7M1099.7 277.0V281.7M1114.0 277.0V281.7M1128.3 277.0V285.3" stroke="#000" stroke-width="2" fill="none"/>
<text x="845.6" y="312.6" text-anchor="middle" class="tk">−1.0</text>
<text x="915.8" y="312.6" text-anchor="middle" class="tk">−0.5</text>
<text x="987.3" y="312.6" text-anchor="middle" class="tk">0</text>
<text x="1057.0" y="312.6" text-anchor="middle" class="tk">0.5</text>
<text x="1128.5" y="312.6" text-anchor="middle" class="tk">1.0</text>
<g transform="translate(954.2,355)"><text x="-0.1" y="0" class="lb" textLength="21.6" lengthAdjust="spacingAndGlyphs">Δ</text><text x="22.7" y="0" class="lbi">x</text><text x="36.9" y="5" class="sl">/</text><text x="50.0" y="0" class="lbi">z</text><text x="60.2" y="3.7" class="sub">i</text></g>
<text x="81.6" y="285.4" text-anchor="end" class="tk">0</text>
<text x="81.6" y="233.2" text-anchor="end" class="tk">0.1</text>
<text x="81.6" y="180.9" text-anchor="end" class="tk">0.2</text>
<text x="81.6" y="128.7" text-anchor="end" class="tk">0.3</text>
<text x="81.6" y="76.4" text-anchor="end" class="tk">0.4</text>
<text x="81.6" y="24.2" text-anchor="end" class="tk">0.5</text>
<g transform="translate(28.9,185.6) rotate(-90)"><text x="-0.1" y="0" class="lb" textLength="21.6" lengthAdjust="spacingAndGlyphs">Δ</text><text x="22.7" y="0" class="lbi">z</text><text x="34.4" y="5" class="sl">/</text><text x="47.5" y="0" class="lbi">z</text><text x="57.7" y="3.7" class="sub">i</text></g>
<text x="0.6" y="24.3" class="pl">(<tspan class="pli">a</tspan>)</text>
<text x="418.4" y="24.3" class="pl">(<tspan class="pli">b</tspan>)</text>
<text x="790.8" y="24.3" class="pl">(<tspan class="pli">c</tspan>)</text>
<rect x="1135.0" y="15.8" width="7.9" height="261.2" fill="#fff"/>
<clipPath id="cb"><rect x="1135.0" y="15.8" width="7.9" height="261.2"/></clipPath><g clip-path="url(#cb)" opacity="0.88">
<rect x="1135.0" y="273.5" width="7.9" height="7" fill="#d3f0e9"/>
<rect x="1135.0" y="262.6" width="7.9" height="7" fill="#aadcf0"/>
<rect x="1135.0" y="251.7" width="7.9" height="7" fill="#a9b6e6"/>
<rect x="1135.0" y="240.8" width="7.9" height="7" fill="#bc98d8"/>
<rect x="1135.0" y="230.0" width="7.9" height="7" fill="#cc80c6"/>
<rect x="1135.0" y="219.1" width="7.9" height="7" fill="#de5a9c"/>
<rect x="1135.0" y="208.2" width="7.9" height="7" fill="#d8584e"/>
<rect x="1135.0" y="197.3" width="7.9" height="7" fill="#b97a26"/>
<rect x="1135.0" y="186.4" width="7.9" height="7" fill="#75883a"/>
<rect x="1135.0" y="175.6" width="7.9" height="7" fill="#2f8f4c"/>
<rect x="1135.0" y="164.7" width="7.9" height="7" fill="#0f7a43"/>
<rect x="1135.0" y="142.9" width="7.9" height="7" fill="#0b5a4e"/>
<rect x="1135.0" y="121.1" width="7.9" height="7" fill="#0a3d55"/>
<rect x="1135.0" y="99.4" width="7.9" height="7" fill="#0a1f3c"/>
<rect x="1135.0" y="55.8" width="7.9" height="7" fill="#0c0c14"/>
<rect x="1135.0" y="12.3" width="7.9" height="7" fill="#000000"/>
</g>
<rect x="1135.0" y="15.8" width="7.9" height="261.2" fill="none" stroke="#000" stroke-width="2"/>
<path d="M1142.9 277.0H1151.1M1142.9 233.5H1151.1M1142.9 189.9H1151.1M1142.9 146.4H1151.1M1142.9 102.9H1151.1M1142.9 59.3H1151.1M1142.9 15.8H1151.1" stroke="#000" stroke-width="2" fill="none"/>
<text x="1161.4" y="285.4" class="tk">0.2</text>
<text x="1161.4" y="241.9" class="tk">0.3</text>
<text x="1161.4" y="198.3" class="tk">0.4</text>
<text x="1161.4" y="154.8" class="tk">0.5</text>
<text x="1161.4" y="111.3" class="tk">0.6</text>
<text x="1161.4" y="67.7" class="tk">0.7</text>
<text x="1161.4" y="24.2" class="tk">0.8</text>
</svg></body></html>
